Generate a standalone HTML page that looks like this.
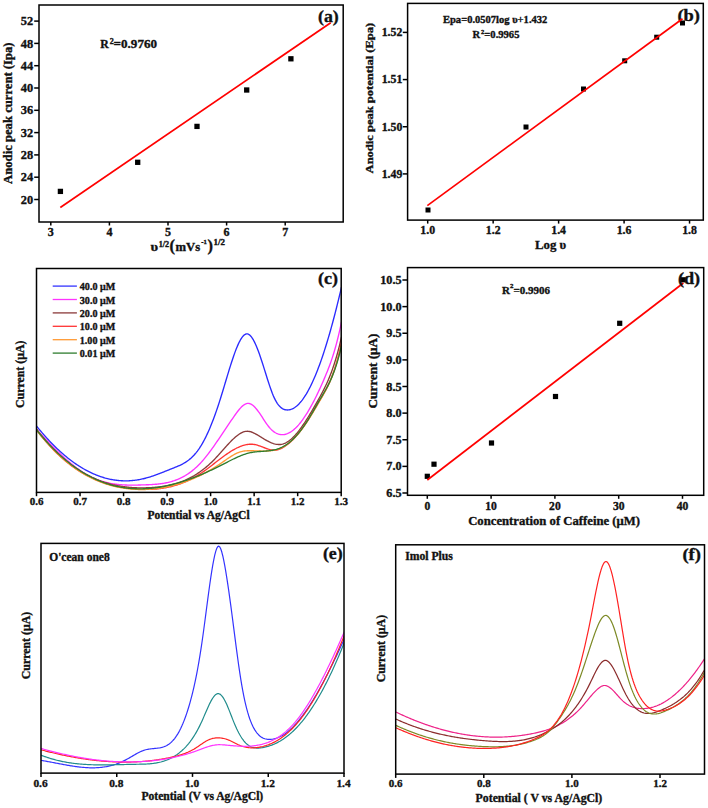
<!DOCTYPE html>
<html><head><meta charset="utf-8"><style>
html,body{margin:0;padding:0;background:#fff;width:708px;height:808px;overflow:hidden}
svg{display:block}
svg text{font-family:"Liberation Serif",serif;font-weight:bold;fill:#111;stroke:#111;stroke-width:0.35px}
</style></head><body>
<svg width="708" height="808" viewBox="0 0 708 808">
<rect width="708" height="808" fill="#fff"/>
<rect x="39.00" y="5.00" width="304.20" height="217.00" fill="none" stroke="#000" stroke-width="1.5"/>
<line x1="34.20" y1="199.50" x2="39.00" y2="199.50" stroke="#000" stroke-width="1.5"/>
<text x="33.20" y="203.60" font-size="12.40" fill="#000" text-anchor="end">20</text>
<line x1="34.20" y1="177.20" x2="39.00" y2="177.20" stroke="#000" stroke-width="1.5"/>
<text x="33.20" y="181.30" font-size="12.40" fill="#000" text-anchor="end">24</text>
<line x1="34.20" y1="154.90" x2="39.00" y2="154.90" stroke="#000" stroke-width="1.5"/>
<text x="33.20" y="159.00" font-size="12.40" fill="#000" text-anchor="end">28</text>
<line x1="34.20" y1="132.60" x2="39.00" y2="132.60" stroke="#000" stroke-width="1.5"/>
<text x="33.20" y="136.70" font-size="12.40" fill="#000" text-anchor="end">32</text>
<line x1="34.20" y1="110.30" x2="39.00" y2="110.30" stroke="#000" stroke-width="1.5"/>
<text x="33.20" y="114.40" font-size="12.40" fill="#000" text-anchor="end">36</text>
<line x1="34.20" y1="88.00" x2="39.00" y2="88.00" stroke="#000" stroke-width="1.5"/>
<text x="33.20" y="92.10" font-size="12.40" fill="#000" text-anchor="end">40</text>
<line x1="34.20" y1="65.70" x2="39.00" y2="65.70" stroke="#000" stroke-width="1.5"/>
<text x="33.20" y="69.80" font-size="12.40" fill="#000" text-anchor="end">44</text>
<line x1="34.20" y1="43.40" x2="39.00" y2="43.40" stroke="#000" stroke-width="1.5"/>
<text x="33.20" y="47.50" font-size="12.40" fill="#000" text-anchor="end">48</text>
<line x1="34.20" y1="21.10" x2="39.00" y2="21.10" stroke="#000" stroke-width="1.5"/>
<text x="33.20" y="25.20" font-size="12.40" fill="#000" text-anchor="end">52</text>
<line x1="50.80" y1="222.00" x2="50.80" y2="225.50" stroke="#000" stroke-width="1.5"/>
<text x="50.80" y="236.40" font-size="12.00" fill="#000" text-anchor="middle">3</text>
<line x1="109.40" y1="222.00" x2="109.40" y2="225.50" stroke="#000" stroke-width="1.5"/>
<text x="109.40" y="236.40" font-size="12.00" fill="#000" text-anchor="middle">4</text>
<line x1="168.00" y1="222.00" x2="168.00" y2="225.50" stroke="#000" stroke-width="1.5"/>
<text x="168.00" y="236.40" font-size="12.00" fill="#000" text-anchor="middle">5</text>
<line x1="226.60" y1="222.00" x2="226.60" y2="225.50" stroke="#000" stroke-width="1.5"/>
<text x="226.60" y="236.40" font-size="12.00" fill="#000" text-anchor="middle">6</text>
<line x1="285.20" y1="222.00" x2="285.20" y2="225.50" stroke="#000" stroke-width="1.5"/>
<text x="285.20" y="236.40" font-size="12.00" fill="#000" text-anchor="middle">7</text>
<text x="12.30" y="183.90" font-size="12.20" textLength="141.50" lengthAdjust="spacingAndGlyphs" transform="rotate(-90 12.30 183.90)">Anodic peak current (Ipa)</text>
<text x="150.60" y="251.40" font-size="13.50" fill="#000" textLength="7.60" lengthAdjust="spacingAndGlyphs">υ</text>
<text x="158.80" y="246.60" font-size="7.90" fill="#000" textLength="10.40" lengthAdjust="spacingAndGlyphs">1/2</text>
<text x="169.60" y="251.40" font-size="16.40" fill="#000">(</text>
<text x="175.50" y="251.40" font-size="12.20" fill="#000" textLength="24.60" lengthAdjust="spacingAndGlyphs">mVs</text>
<text x="201.20" y="244.10" font-size="7.00" fill="#000" textLength="5.60" lengthAdjust="spacingAndGlyphs">-1</text>
<text x="207.40" y="251.40" font-size="16.40" fill="#000">)</text>
<text x="213.60" y="244.70" font-size="7.90" fill="#000" textLength="11.40" lengthAdjust="spacingAndGlyphs">1/2</text>
<text x="100.20" y="47.70" font-size="11.80" fill="#000">R</text>
<text x="109.70" y="44.00" font-size="8.00" fill="#000">2</text>
<text x="113.60" y="47.70" font-size="11.80" fill="#000" textLength="43.40" lengthAdjust="spacingAndGlyphs">=0.9760</text>
<text x="318.00" y="22.10" font-size="16.40" fill="#000" textLength="20.80" lengthAdjust="spacingAndGlyphs">(a)</text>
<rect x="57.75" y="188.75" width="5.3" height="5.3" fill="#000"/>
<rect x="135.05" y="159.65" width="5.3" height="5.3" fill="#000"/>
<rect x="194.35" y="123.75" width="5.3" height="5.3" fill="#000"/>
<rect x="244.05" y="87.35" width="5.3" height="5.3" fill="#000"/>
<rect x="288.25" y="56.15" width="5.3" height="5.3" fill="#000"/>
<line x1="60.30" y1="207.50" x2="330.70" y2="22.70" stroke="#ff0000" stroke-width="1.7"/>
<rect x="407.60" y="3.40" width="295.70" height="216.70" fill="none" stroke="#000" stroke-width="1.5"/>
<line x1="402.80" y1="173.91" x2="407.60" y2="173.91" stroke="#000" stroke-width="1.5"/>
<text x="402.30" y="177.71" font-size="11.80" fill="#000" text-anchor="end">1.49</text>
<line x1="402.80" y1="126.74" x2="407.60" y2="126.74" stroke="#000" stroke-width="1.5"/>
<text x="402.30" y="130.54" font-size="11.80" fill="#000" text-anchor="end">1.50</text>
<line x1="402.80" y1="79.57" x2="407.60" y2="79.57" stroke="#000" stroke-width="1.5"/>
<text x="402.30" y="83.37" font-size="11.80" fill="#000" text-anchor="end">1.51</text>
<line x1="402.80" y1="32.40" x2="407.60" y2="32.40" stroke="#000" stroke-width="1.5"/>
<text x="402.30" y="36.20" font-size="11.80" fill="#000" text-anchor="end">1.52</text>
<line x1="427.70" y1="220.10" x2="427.70" y2="223.60" stroke="#000" stroke-width="1.5"/>
<text x="427.70" y="234.20" font-size="11.80" fill="#000" text-anchor="middle">1.0</text>
<line x1="493.16" y1="220.10" x2="493.16" y2="223.60" stroke="#000" stroke-width="1.5"/>
<text x="493.16" y="234.20" font-size="11.80" fill="#000" text-anchor="middle">1.2</text>
<line x1="558.62" y1="220.10" x2="558.62" y2="223.60" stroke="#000" stroke-width="1.5"/>
<text x="558.62" y="234.20" font-size="11.80" fill="#000" text-anchor="middle">1.4</text>
<line x1="624.08" y1="220.10" x2="624.08" y2="223.60" stroke="#000" stroke-width="1.5"/>
<text x="624.08" y="234.20" font-size="11.80" fill="#000" text-anchor="middle">1.6</text>
<line x1="689.54" y1="220.10" x2="689.54" y2="223.60" stroke="#000" stroke-width="1.5"/>
<text x="689.54" y="234.20" font-size="11.80" fill="#000" text-anchor="middle">1.8</text>
<text x="373.40" y="173.40" font-size="10.90" textLength="150.60" lengthAdjust="spacingAndGlyphs" transform="rotate(-90 373.40 173.40)">Anodic peak potential (Epa)</text>
<text x="535.00" y="248.80" font-size="12.80" fill="#000">Log υ</text>
<text x="443.00" y="23.40" font-size="10.60" fill="#000" textLength="104.30" lengthAdjust="spacingAndGlyphs">Epa=0.0507log υ+1.432</text>
<text x="472.40" y="37.70" font-size="10.60" fill="#000">R</text>
<text x="481.10" y="33.60" font-size="6.40" fill="#000">2</text>
<text x="484.30" y="37.70" font-size="10.60" fill="#000">=0.9965</text>
<text x="677.40" y="20.90" font-size="16.40" fill="#000" textLength="22.60" lengthAdjust="spacingAndGlyphs">(b)</text>
<rect x="425.50" y="207.50" width="5.0" height="5.0" fill="#000"/>
<rect x="523.50" y="124.50" width="5.0" height="5.0" fill="#000"/>
<rect x="581.00" y="86.50" width="5.0" height="5.0" fill="#000"/>
<rect x="622.20" y="58.30" width="5.0" height="5.0" fill="#000"/>
<rect x="654.20" y="34.70" width="5.0" height="5.0" fill="#000"/>
<rect x="680.00" y="20.50" width="5.0" height="5.0" fill="#000"/>
<line x1="427.30" y1="205.60" x2="682.50" y2="18.70" stroke="#ff0000" stroke-width="1.7"/>
<line x1="36.50" y1="492.40" x2="36.50" y2="496.20" stroke="#000" stroke-width="1.5"/>
<text x="36.50" y="504.80" font-size="11.00" fill="#000" text-anchor="middle">0.6</text>
<line x1="80.03" y1="492.40" x2="80.03" y2="496.20" stroke="#000" stroke-width="1.5"/>
<text x="80.03" y="504.80" font-size="11.00" fill="#000" text-anchor="middle">0.7</text>
<line x1="123.56" y1="492.40" x2="123.56" y2="496.20" stroke="#000" stroke-width="1.5"/>
<text x="123.56" y="504.80" font-size="11.00" fill="#000" text-anchor="middle">0.8</text>
<line x1="167.09" y1="492.40" x2="167.09" y2="496.20" stroke="#000" stroke-width="1.5"/>
<text x="167.09" y="504.80" font-size="11.00" fill="#000" text-anchor="middle">0.9</text>
<line x1="210.61" y1="492.40" x2="210.61" y2="496.20" stroke="#000" stroke-width="1.5"/>
<text x="210.61" y="504.80" font-size="11.00" fill="#000" text-anchor="middle">1.0</text>
<line x1="254.14" y1="492.40" x2="254.14" y2="496.20" stroke="#000" stroke-width="1.5"/>
<text x="254.14" y="504.80" font-size="11.00" fill="#000" text-anchor="middle">1.1</text>
<line x1="297.67" y1="492.40" x2="297.67" y2="496.20" stroke="#000" stroke-width="1.5"/>
<text x="297.67" y="504.80" font-size="11.00" fill="#000" text-anchor="middle">1.2</text>
<line x1="341.20" y1="492.40" x2="341.20" y2="496.20" stroke="#000" stroke-width="1.5"/>
<text x="341.20" y="504.80" font-size="11.00" fill="#000" text-anchor="middle">1.3</text>
<text x="24.40" y="408.00" font-size="12.00" textLength="67.40" lengthAdjust="spacingAndGlyphs" transform="rotate(-90 24.40 408.00)">Current (μA)</text>
<text x="147.40" y="518.50" font-size="11.50" fill="#000">Potential vs Ag/AgCl</text>
<text x="318.00" y="284.20" font-size="16.40" fill="#000" textLength="20.00" lengthAdjust="spacingAndGlyphs">(c)</text>
<line x1="52.70" y1="286.10" x2="76.90" y2="286.10" stroke="#3333ff" stroke-width="1.3"/>
<text x="79.80" y="290.20" font-size="10.10" fill="#000">40.0 μM</text>
<line x1="52.70" y1="299.50" x2="76.90" y2="299.50" stroke="#ff33ff" stroke-width="1.3"/>
<text x="79.80" y="303.60" font-size="10.10" fill="#000">30.0 μM</text>
<line x1="52.70" y1="312.90" x2="76.90" y2="312.90" stroke="#8b3a3a" stroke-width="1.3"/>
<text x="79.80" y="317.00" font-size="10.10" fill="#000">20.0 μM</text>
<line x1="52.70" y1="326.30" x2="76.90" y2="326.30" stroke="#ff3333" stroke-width="1.3"/>
<text x="79.80" y="330.40" font-size="10.10" fill="#000">10.0 μM</text>
<line x1="52.70" y1="339.70" x2="76.90" y2="339.70" stroke="#ff9933" stroke-width="1.3"/>
<text x="79.80" y="343.80" font-size="10.10" fill="#000">1.00 μM</text>
<line x1="52.70" y1="353.10" x2="76.90" y2="353.10" stroke="#2e7d2e" stroke-width="1.3"/>
<text x="79.80" y="357.20" font-size="10.10" fill="#000">0.01 μM</text>
<clipPath id="cc"><rect x="36.5" y="268.5" width="304.7" height="223.89999999999998"/></clipPath>
<g clip-path="url(#cc)">
<path d="M36.40,425.88 L37.40,427.12 L38.40,428.34 L39.40,429.56 L40.40,430.75 L41.40,431.94 L42.40,433.11 L43.40,434.26 L44.40,435.40 L45.40,436.53 L46.40,437.64 L47.40,438.73 L48.40,439.82 L49.40,440.88 L50.40,441.94 L51.40,442.98 L52.40,444.00 L53.40,445.01 L54.40,446.01 L55.40,446.99 L56.40,447.96 L57.40,448.91 L58.40,449.85 L59.40,450.77 L60.40,451.68 L61.40,452.58 L62.40,453.46 L63.40,454.33 L64.40,455.18 L65.40,456.02 L66.40,456.85 L67.40,457.66 L68.40,458.45 L69.40,459.24 L70.40,460.01 L71.40,460.76 L72.40,461.50 L73.40,462.23 L74.40,462.94 L75.40,463.64 L76.40,464.32 L77.40,464.99 L78.40,465.64 L79.40,466.29 L80.40,466.91 L81.40,467.53 L82.40,468.13 L83.40,468.71 L84.40,469.28 L85.40,469.84 L86.40,470.39 L87.40,470.92 L88.40,471.43 L89.40,471.93 L90.40,472.42 L91.40,472.90 L92.40,473.36 L93.40,473.80 L94.40,474.24 L95.40,474.65 L96.40,475.06 L97.40,475.45 L98.40,475.83 L99.40,476.19 L100.40,476.54 L101.40,476.88 L102.40,477.20 L103.40,477.51 L104.40,477.80 L105.40,478.09 L106.40,478.35 L107.40,478.61 L108.40,478.85 L109.40,479.07 L110.40,479.29 L111.40,479.48 L112.40,479.67 L113.40,479.84 L114.40,480.00 L115.40,480.15 L116.40,480.28 L117.40,480.39 L118.40,480.50 L119.40,480.59 L120.40,480.67 L121.40,480.73 L122.40,480.78 L123.40,480.82 L124.40,480.84 L125.40,480.85 L126.40,480.84 L127.40,480.83 L128.40,480.80 L129.40,480.75 L130.40,480.69 L131.40,480.62 L132.40,480.54 L133.40,480.44 L134.40,480.33 L135.40,480.20 L136.40,480.07 L137.40,479.92 L138.40,479.75 L139.40,479.57 L140.40,479.38 L141.40,479.18 L142.40,478.96 L143.40,478.73 L144.40,478.49 L145.40,478.23 L146.40,477.96 L147.40,477.68 L148.40,477.38 L149.40,477.08 L150.40,476.77 L151.40,476.44 L152.40,476.11 L153.40,475.77 L154.40,475.42 L155.40,475.06 L156.40,474.70 L157.40,474.33 L158.40,473.95 L159.40,473.57 L160.40,473.19 L161.40,472.80 L162.40,472.41 L163.40,472.01 L164.40,471.61 L165.40,471.21 L166.40,470.81 L167.40,470.41 L168.40,470.01 L169.40,469.61 L170.40,469.20 L171.40,468.81 L172.40,468.41 L173.40,468.01 L174.40,467.62 L175.40,467.22 L176.40,466.81 L177.40,466.40 L178.40,465.97 L179.40,465.52 L180.40,465.06 L181.40,464.57 L182.40,464.06 L183.40,463.51 L184.40,462.94 L185.40,462.33 L186.40,461.68 L187.40,460.99 L188.40,460.25 L189.40,459.47 L190.40,458.63 L191.40,457.74 L192.40,456.79 L193.40,455.78 L194.40,454.71 L195.40,453.57 L196.40,452.36 L197.40,451.07 L198.40,449.71 L199.40,448.27 L200.40,446.74 L201.40,445.13 L202.40,443.43 L203.40,441.64 L204.40,439.77 L205.40,437.82 L206.40,435.78 L207.40,433.66 L208.40,431.45 L209.40,429.17 L210.40,426.80 L211.40,424.35 L212.40,421.82 L213.40,419.20 L214.40,416.52 L215.40,413.75 L216.40,410.90 L217.40,407.98 L218.40,404.98 L219.40,401.90 L220.40,398.75 L221.40,395.53 L222.40,392.27 L223.40,388.97 L224.40,385.64 L225.40,382.30 L226.40,378.96 L227.40,375.63 L228.40,372.33 L229.40,369.07 L230.40,365.87 L231.40,362.73 L232.40,359.67 L233.40,356.71 L234.40,353.86 L235.40,351.14 L236.40,348.56 L237.40,346.14 L238.40,343.89 L239.40,341.83 L240.40,339.97 L241.40,338.33 L242.40,336.92 L243.40,335.76 L244.40,334.87 L245.40,334.25 L246.40,333.93 L247.40,333.91 L248.40,334.22 L249.40,334.83 L250.40,335.72 L251.40,336.89 L252.40,338.31 L253.40,339.97 L254.40,341.86 L255.40,343.95 L256.40,346.23 L257.40,348.69 L258.40,351.30 L259.40,354.06 L260.40,356.94 L261.40,359.93 L262.40,363.01 L263.40,366.16 L264.40,369.36 L265.40,372.57 L266.40,375.78 L267.40,378.95 L268.40,382.07 L269.40,385.10 L270.40,388.03 L271.40,390.82 L272.40,393.46 L273.40,395.91 L274.40,398.15 L275.40,400.16 L276.40,401.95 L277.40,403.53 L278.40,404.90 L279.40,406.09 L280.40,407.09 L281.40,407.93 L282.40,408.60 L283.40,409.13 L284.40,409.52 L285.40,409.79 L286.40,409.93 L287.40,409.98 L288.40,409.93 L289.40,409.78 L290.40,409.55 L291.40,409.22 L292.40,408.81 L293.40,408.30 L294.40,407.71 L295.40,407.03 L296.40,406.26 L297.40,405.40 L298.40,404.45 L299.40,403.42 L300.40,402.30 L301.40,401.09 L302.40,399.80 L303.40,398.42 L304.40,396.96 L305.40,395.41 L306.40,393.79 L307.40,392.07 L308.40,390.28 L309.40,388.40 L310.40,386.44 L311.40,384.40 L312.40,382.27 L313.40,380.07 L314.40,377.79 L315.40,375.42 L316.40,372.98 L317.40,370.46 L318.40,367.86 L319.40,365.18 L320.40,362.43 L321.40,359.60 L322.40,356.69 L323.40,353.71 L324.40,350.65 L325.40,347.51 L326.40,344.30 L327.40,341.02 L328.40,337.66 L329.40,334.23 L330.40,330.73 L331.40,327.15 L332.40,323.51 L333.40,319.79 L334.40,316.00 L335.40,312.14 L336.40,308.21 L337.40,304.21 L338.40,300.14 L339.40,296.00 L340.40,291.80 L341.40,287.52 L341.50,287.09" fill="none" stroke="#2b2bff" stroke-width="1.35" stroke-linejoin="round"/>
<path d="M36.40,429.13 L37.40,430.23 L38.40,431.33 L39.40,432.42 L40.40,433.51 L41.40,434.60 L42.40,435.68 L43.40,436.76 L44.40,437.83 L45.40,438.90 L46.40,439.96 L47.40,441.01 L48.40,442.06 L49.40,443.10 L50.40,444.14 L51.40,445.17 L52.40,446.19 L53.40,447.20 L54.40,448.21 L55.40,449.20 L56.40,450.19 L57.40,451.17 L58.40,452.14 L59.40,453.10 L60.40,454.05 L61.40,454.99 L62.40,455.92 L63.40,456.84 L64.40,457.75 L65.40,458.65 L66.40,459.54 L67.40,460.41 L68.40,461.27 L69.40,462.12 L70.40,462.96 L71.40,463.78 L72.40,464.59 L73.40,465.39 L74.40,466.17 L75.40,466.94 L76.40,467.70 L77.40,468.44 L78.40,469.16 L79.40,469.87 L80.40,470.56 L81.40,471.24 L82.40,471.90 L83.40,472.55 L84.40,473.17 L85.40,473.78 L86.40,474.38 L87.40,474.95 L88.40,475.51 L89.40,476.05 L90.40,476.57 L91.40,477.07 L92.40,477.56 L93.40,478.02 L94.40,478.46 L95.40,478.89 L96.40,479.30 L97.40,479.69 L98.40,480.07 L99.40,480.42 L100.40,480.77 L101.40,481.09 L102.40,481.40 L103.40,481.70 L104.40,481.97 L105.40,482.24 L106.40,482.49 L107.40,482.72 L108.40,482.95 L109.40,483.16 L110.40,483.35 L111.40,483.54 L112.40,483.71 L113.40,483.87 L114.40,484.02 L115.40,484.15 L116.40,484.28 L117.40,484.39 L118.40,484.50 L119.40,484.60 L120.40,484.68 L121.40,484.76 L122.40,484.83 L123.40,484.89 L124.40,484.94 L125.40,484.99 L126.40,485.02 L127.40,485.06 L128.40,485.08 L129.40,485.10 L130.40,485.11 L131.40,485.12 L132.40,485.12 L133.40,485.11 L134.40,485.10 L135.40,485.09 L136.40,485.08 L137.40,485.06 L138.40,485.04 L139.40,485.01 L140.40,484.98 L141.40,484.95 L142.40,484.92 L143.40,484.89 L144.40,484.86 L145.40,484.82 L146.40,484.79 L147.40,484.75 L148.40,484.71 L149.40,484.66 L150.40,484.62 L151.40,484.56 L152.40,484.50 L153.40,484.44 L154.40,484.37 L155.40,484.29 L156.40,484.21 L157.40,484.11 L158.40,484.01 L159.40,483.90 L160.40,483.77 L161.40,483.64 L162.40,483.49 L163.40,483.34 L164.40,483.17 L165.40,482.98 L166.40,482.78 L167.40,482.57 L168.40,482.34 L169.40,482.10 L170.40,481.84 L171.40,481.56 L172.40,481.26 L173.40,480.95 L174.40,480.62 L175.40,480.26 L176.40,479.89 L177.40,479.50 L178.40,479.08 L179.40,478.64 L180.40,478.18 L181.40,477.69 L182.40,477.19 L183.40,476.65 L184.40,476.09 L185.40,475.51 L186.40,474.90 L187.40,474.26 L188.40,473.59 L189.40,472.89 L190.40,472.17 L191.40,471.42 L192.40,470.63 L193.40,469.81 L194.40,468.97 L195.40,468.09 L196.40,467.17 L197.40,466.23 L198.40,465.25 L199.40,464.23 L200.40,463.18 L201.40,462.09 L202.40,460.97 L203.40,459.82 L204.40,458.63 L205.40,457.41 L206.40,456.17 L207.40,454.89 L208.40,453.59 L209.40,452.27 L210.40,450.92 L211.40,449.56 L212.40,448.17 L213.40,446.77 L214.40,445.35 L215.40,443.91 L216.40,442.46 L217.40,441.00 L218.40,439.53 L219.40,438.06 L220.40,436.57 L221.40,435.08 L222.40,433.58 L223.40,432.09 L224.40,430.59 L225.40,429.09 L226.40,427.59 L227.40,426.10 L228.40,424.62 L229.40,423.14 L230.40,421.67 L231.40,420.20 L232.40,418.76 L233.40,417.32 L234.40,415.90 L235.40,414.49 L236.40,413.11 L237.40,411.77 L238.40,410.48 L239.40,409.26 L240.40,408.11 L241.40,407.06 L242.40,406.11 L243.40,405.28 L244.40,404.58 L245.40,404.03 L246.40,403.64 L247.40,403.42 L248.40,403.39 L249.40,403.54 L250.40,403.88 L251.40,404.38 L252.40,405.04 L253.40,405.84 L254.40,406.78 L255.40,407.83 L256.40,408.99 L257.40,410.24 L258.40,411.57 L259.40,412.98 L260.40,414.44 L261.40,415.95 L262.40,417.48 L263.40,419.02 L264.40,420.55 L265.40,422.05 L266.40,423.51 L267.40,424.92 L268.40,426.25 L269.40,427.49 L270.40,428.62 L271.40,429.65 L272.40,430.57 L273.40,431.39 L274.40,432.12 L275.40,432.74 L276.40,433.28 L277.40,433.72 L278.40,434.08 L279.40,434.34 L280.40,434.53 L281.40,434.63 L282.40,434.66 L283.40,434.60 L284.40,434.47 L285.40,434.26 L286.40,433.98 L287.40,433.62 L288.40,433.19 L289.40,432.68 L290.40,432.11 L291.40,431.46 L292.40,430.75 L293.40,429.97 L294.40,429.12 L295.40,428.21 L296.40,427.23 L297.40,426.19 L298.40,425.09 L299.40,423.93 L300.40,422.70 L301.40,421.42 L302.40,420.08 L303.40,418.69 L304.40,417.24 L305.40,415.73 L306.40,414.18 L307.40,412.57 L308.40,410.91 L309.40,409.20 L310.40,407.44 L311.40,405.63 L312.40,403.78 L313.40,401.88 L314.40,399.94 L315.40,397.96 L316.40,395.94 L317.40,393.87 L318.40,391.77 L319.40,389.62 L320.40,387.44 L321.40,385.22 L322.40,382.97 L323.40,380.69 L324.40,378.37 L325.40,376.02 L326.40,373.61 L327.40,371.15 L328.40,368.61 L329.40,365.98 L330.40,363.24 L331.40,360.39 L332.40,357.40 L333.40,354.27 L334.40,350.98 L335.40,347.51 L336.40,343.86 L337.40,340.01 L338.40,335.94 L339.40,331.64 L340.40,327.10 L341.40,322.31 L341.50,321.81" fill="none" stroke="#ff33ff" stroke-width="1.35" stroke-linejoin="round"/>
<path d="M36.40,428.96 L37.40,430.28 L38.40,431.59 L39.40,432.87 L40.40,434.14 L41.40,435.39 L42.40,436.62 L43.40,437.83 L44.40,439.03 L45.40,440.20 L46.40,441.36 L47.40,442.50 L48.40,443.63 L49.40,444.74 L50.40,445.82 L51.40,446.90 L52.40,447.95 L53.40,448.99 L54.40,450.01 L55.40,451.02 L56.40,452.01 L57.40,452.98 L58.40,453.94 L59.40,454.88 L60.40,455.80 L61.40,456.71 L62.40,457.60 L63.40,458.48 L64.40,459.34 L65.40,460.18 L66.40,461.01 L67.40,461.83 L68.40,462.63 L69.40,463.41 L70.40,464.18 L71.40,464.94 L72.40,465.68 L73.40,466.40 L74.40,467.11 L75.40,467.81 L76.40,468.49 L77.40,469.16 L78.40,469.82 L79.40,470.46 L80.40,471.08 L81.40,471.70 L82.40,472.30 L83.40,472.88 L84.40,473.46 L85.40,474.02 L86.40,474.56 L87.40,475.10 L88.40,475.62 L89.40,476.13 L90.40,476.62 L91.40,477.10 L92.40,477.57 L93.40,478.03 L94.40,478.48 L95.40,478.91 L96.40,479.34 L97.40,479.75 L98.40,480.14 L99.40,480.53 L100.40,480.91 L101.40,481.27 L102.40,481.63 L103.40,481.97 L104.40,482.30 L105.40,482.62 L106.40,482.93 L107.40,483.23 L108.40,483.51 L109.40,483.79 L110.40,484.06 L111.40,484.32 L112.40,484.56 L113.40,484.80 L114.40,485.03 L115.40,485.25 L116.40,485.45 L117.40,485.65 L118.40,485.84 L119.40,486.02 L120.40,486.19 L121.40,486.35 L122.40,486.51 L123.40,486.65 L124.40,486.78 L125.40,486.91 L126.40,487.03 L127.40,487.14 L128.40,487.24 L129.40,487.33 L130.40,487.42 L131.40,487.49 L132.40,487.56 L133.40,487.63 L134.40,487.68 L135.40,487.73 L136.40,487.77 L137.40,487.80 L138.40,487.82 L139.40,487.84 L140.40,487.85 L141.40,487.86 L142.40,487.86 L143.40,487.85 L144.40,487.83 L145.40,487.81 L146.40,487.78 L147.40,487.75 L148.40,487.71 L149.40,487.66 L150.40,487.61 L151.40,487.56 L152.40,487.49 L153.40,487.42 L154.40,487.35 L155.40,487.26 L156.40,487.17 L157.40,487.08 L158.40,486.97 L159.40,486.86 L160.40,486.74 L161.40,486.60 L162.40,486.46 L163.40,486.32 L164.40,486.16 L165.40,485.99 L166.40,485.81 L167.40,485.62 L168.40,485.42 L169.40,485.21 L170.40,484.98 L171.40,484.75 L172.40,484.50 L173.40,484.25 L174.40,483.97 L175.40,483.69 L176.40,483.39 L177.40,483.08 L178.40,482.76 L179.40,482.42 L180.40,482.07 L181.40,481.70 L182.40,481.32 L183.40,480.92 L184.40,480.51 L185.40,480.08 L186.40,479.63 L187.40,479.17 L188.40,478.69 L189.40,478.20 L190.40,477.68 L191.40,477.15 L192.40,476.61 L193.40,476.04 L194.40,475.46 L195.40,474.85 L196.40,474.23 L197.40,473.59 L198.40,472.93 L199.40,472.25 L200.40,471.54 L201.40,470.82 L202.40,470.08 L203.40,469.32 L204.40,468.53 L205.40,467.72 L206.40,466.89 L207.40,466.04 L208.40,465.17 L209.40,464.27 L210.40,463.35 L211.40,462.41 L212.40,461.44 L213.40,460.45 L214.40,459.43 L215.40,458.39 L216.40,457.33 L217.40,456.24 L218.40,455.14 L219.40,454.03 L220.40,452.91 L221.40,451.78 L222.40,450.65 L223.40,449.51 L224.40,448.38 L225.40,447.26 L226.40,446.15 L227.40,445.04 L228.40,443.96 L229.40,442.89 L230.40,441.85 L231.40,440.83 L232.40,439.84 L233.40,438.88 L234.40,437.96 L235.40,437.07 L236.40,436.23 L237.40,435.44 L238.40,434.70 L239.40,434.01 L240.40,433.39 L241.40,432.84 L242.40,432.37 L243.40,431.97 L244.40,431.65 L245.40,431.43 L246.40,431.30 L247.40,431.26 L248.40,431.32 L249.40,431.47 L250.40,431.70 L251.40,432.01 L252.40,432.37 L253.40,432.80 L254.40,433.27 L255.40,433.79 L256.40,434.35 L257.40,434.93 L258.40,435.53 L259.40,436.14 L260.40,436.76 L261.40,437.39 L262.40,438.00 L263.40,438.62 L264.40,439.22 L265.40,439.81 L266.40,440.38 L267.40,440.93 L268.40,441.45 L269.40,441.95 L270.40,442.41 L271.40,442.84 L272.40,443.23 L273.40,443.57 L274.40,443.87 L275.40,444.12 L276.40,444.31 L277.40,444.45 L278.40,444.52 L279.40,444.53 L280.40,444.47 L281.40,444.34 L282.40,444.12 L283.40,443.84 L284.40,443.47 L285.40,443.03 L286.40,442.51 L287.40,441.92 L288.40,441.27 L289.40,440.54 L290.40,439.75 L291.40,438.90 L292.40,437.99 L293.40,437.01 L294.40,435.99 L295.40,434.90 L296.40,433.76 L297.40,432.58 L298.40,431.34 L299.40,430.06 L300.40,428.73 L301.40,427.36 L302.40,425.95 L303.40,424.50 L304.40,423.02 L305.40,421.50 L306.40,419.95 L307.40,418.37 L308.40,416.76 L309.40,415.13 L310.40,413.47 L311.40,411.79 L312.40,410.09 L313.40,408.37 L314.40,406.64 L315.40,404.90 L316.40,403.14 L317.40,401.37 L318.40,399.60 L319.40,397.81 L320.40,396.00 L321.40,394.16 L322.40,392.28 L323.40,390.35 L324.40,388.36 L325.40,386.31 L326.40,384.18 L327.40,381.98 L328.40,379.68 L329.40,377.28 L330.40,374.77 L331.40,372.14 L332.40,369.39 L333.40,366.51 L334.40,363.48 L335.40,360.30 L336.40,356.96 L337.40,353.45 L338.40,349.75 L339.40,345.85 L340.40,341.71 L341.40,337.31 L341.50,336.86" fill="none" stroke="#8b3a3a" stroke-width="1.35" stroke-linejoin="round"/>
<path d="M36.40,429.52 L37.40,430.86 L38.40,432.17 L39.40,433.47 L40.40,434.75 L41.40,436.01 L42.40,437.25 L43.40,438.47 L44.40,439.67 L45.40,440.85 L46.40,442.02 L47.40,443.17 L48.40,444.30 L49.40,445.41 L50.40,446.50 L51.40,447.58 L52.40,448.64 L53.40,449.68 L54.40,450.70 L55.40,451.71 L56.40,452.70 L57.40,453.67 L58.40,454.63 L59.40,455.57 L60.40,456.49 L61.40,457.40 L62.40,458.29 L63.40,459.16 L64.40,460.02 L65.40,460.87 L66.40,461.69 L67.40,462.50 L68.40,463.30 L69.40,464.08 L70.40,464.85 L71.40,465.60 L72.40,466.34 L73.40,467.06 L74.40,467.77 L75.40,468.46 L76.40,469.14 L77.40,469.81 L78.40,470.46 L79.40,471.09 L80.40,471.72 L81.40,472.33 L82.40,472.92 L83.40,473.51 L84.40,474.08 L85.40,474.63 L86.40,475.18 L87.40,475.71 L88.40,476.23 L89.40,476.74 L90.40,477.23 L91.40,477.71 L92.40,478.18 L93.40,478.64 L94.40,479.09 L95.40,479.52 L96.40,479.95 L97.40,480.36 L98.40,480.76 L99.40,481.15 L100.40,481.53 L101.40,481.89 L102.40,482.25 L103.40,482.60 L104.40,482.93 L105.40,483.26 L106.40,483.58 L107.40,483.88 L108.40,484.18 L109.40,484.47 L110.40,484.74 L111.40,485.01 L112.40,485.27 L113.40,485.52 L114.40,485.76 L115.40,485.99 L116.40,486.21 L117.40,486.43 L118.40,486.63 L119.40,486.83 L120.40,487.02 L121.40,487.20 L122.40,487.37 L123.40,487.54 L124.40,487.69 L125.40,487.84 L126.40,487.99 L127.40,488.12 L128.40,488.25 L129.40,488.37 L130.40,488.49 L131.40,488.59 L132.40,488.70 L133.40,488.79 L134.40,488.88 L135.40,488.96 L136.40,489.04 L137.40,489.11 L138.40,489.17 L139.40,489.23 L140.40,489.28 L141.40,489.32 L142.40,489.35 L143.40,489.38 L144.40,489.40 L145.40,489.41 L146.40,489.41 L147.40,489.41 L148.40,489.40 L149.40,489.38 L150.40,489.35 L151.40,489.31 L152.40,489.26 L153.40,489.20 L154.40,489.14 L155.40,489.06 L156.40,488.98 L157.40,488.89 L158.40,488.78 L159.40,488.67 L160.40,488.55 L161.40,488.41 L162.40,488.27 L163.40,488.12 L164.40,487.95 L165.40,487.77 L166.40,487.59 L167.40,487.39 L168.40,487.18 L169.40,486.96 L170.40,486.73 L171.40,486.49 L172.40,486.23 L173.40,485.96 L174.40,485.68 L175.40,485.39 L176.40,485.09 L177.40,484.77 L178.40,484.44 L179.40,484.10 L180.40,483.74 L181.40,483.37 L182.40,482.99 L183.40,482.59 L184.40,482.18 L185.40,481.76 L186.40,481.32 L187.40,480.87 L188.40,480.41 L189.40,479.93 L190.40,479.43 L191.40,478.92 L192.40,478.40 L193.40,477.86 L194.40,477.30 L195.40,476.73 L196.40,476.15 L197.40,475.55 L198.40,474.93 L199.40,474.30 L200.40,473.65 L201.40,472.98 L202.40,472.30 L203.40,471.61 L204.40,470.90 L205.40,470.18 L206.40,469.45 L207.40,468.71 L208.40,467.96 L209.40,467.21 L210.40,466.45 L211.40,465.68 L212.40,464.91 L213.40,464.14 L214.40,463.36 L215.40,462.59 L216.40,461.81 L217.40,461.04 L218.40,460.27 L219.40,459.50 L220.40,458.74 L221.40,457.99 L222.40,457.24 L223.40,456.50 L224.40,455.78 L225.40,455.06 L226.40,454.35 L227.40,453.66 L228.40,452.98 L229.40,452.32 L230.40,451.68 L231.40,451.05 L232.40,450.44 L233.40,449.86 L234.40,449.29 L235.40,448.75 L236.40,448.23 L237.40,447.74 L238.40,447.27 L239.40,446.84 L240.40,446.43 L241.40,446.05 L242.40,445.70 L243.40,445.39 L244.40,445.11 L245.40,444.87 L246.40,444.67 L247.40,444.50 L248.40,444.38 L249.40,444.29 L250.40,444.25 L251.40,444.25 L252.40,444.29 L253.40,444.38 L254.40,444.52 L255.40,444.71 L256.40,444.94 L257.40,445.21 L258.40,445.52 L259.40,445.86 L260.40,446.22 L261.40,446.59 L262.40,446.98 L263.40,447.37 L264.40,447.75 L265.40,448.13 L266.40,448.50 L267.40,448.84 L268.40,449.16 L269.40,449.44 L270.40,449.69 L271.40,449.88 L272.40,450.03 L273.40,450.12 L274.40,450.15 L275.40,450.11 L276.40,449.99 L277.40,449.79 L278.40,449.52 L279.40,449.19 L280.40,448.78 L281.40,448.32 L282.40,447.81 L283.40,447.24 L284.40,446.63 L285.40,445.97 L286.40,445.27 L287.40,444.53 L288.40,443.74 L289.40,442.91 L290.40,442.04 L291.40,441.13 L292.40,440.17 L293.40,439.17 L294.40,438.12 L295.40,437.03 L296.40,435.90 L297.40,434.73 L298.40,433.51 L299.40,432.26 L300.40,430.96 L301.40,429.63 L302.40,428.26 L303.40,426.86 L304.40,425.42 L305.40,423.94 L306.40,422.44 L307.40,420.90 L308.40,419.34 L309.40,417.74 L310.40,416.12 L311.40,414.49 L312.40,412.83 L313.40,411.16 L314.40,409.47 L315.40,407.78 L316.40,406.08 L317.40,404.38 L318.40,402.69 L319.40,400.99 L320.40,399.31 L321.40,397.63 L322.40,395.93 L323.40,394.22 L324.40,392.46 L325.40,390.66 L326.40,388.78 L327.40,386.82 L328.40,384.77 L329.40,382.61 L330.40,380.33 L331.40,377.90 L332.40,375.33 L333.40,372.59 L334.40,369.66 L335.40,366.55 L336.40,363.22 L337.40,359.67 L338.40,355.88 L339.40,351.84 L340.40,347.53 L341.40,342.94 L341.50,342.46" fill="none" stroke="#ff3333" stroke-width="1.35" stroke-linejoin="round"/>
<path d="M36.40,429.94 L37.40,431.24 L38.40,432.51 L39.40,433.77 L40.40,435.01 L41.40,436.24 L42.40,437.45 L43.40,438.64 L44.40,439.81 L45.40,440.97 L46.40,442.11 L47.40,443.24 L48.40,444.35 L49.40,445.44 L50.40,446.52 L51.40,447.58 L52.40,448.62 L53.40,449.65 L54.40,450.67 L55.40,451.66 L56.40,452.65 L57.40,453.61 L58.40,454.56 L59.40,455.50 L60.40,456.42 L61.40,457.33 L62.40,458.22 L63.40,459.10 L64.40,459.96 L65.40,460.80 L66.40,461.64 L67.40,462.45 L68.40,463.26 L69.40,464.05 L70.40,464.82 L71.40,465.58 L72.40,466.33 L73.40,467.06 L74.40,467.78 L75.40,468.49 L76.40,469.18 L77.40,469.85 L78.40,470.52 L79.40,471.17 L80.40,471.81 L81.40,472.43 L82.40,473.05 L83.40,473.65 L84.40,474.23 L85.40,474.81 L86.40,475.37 L87.40,475.91 L88.40,476.45 L89.40,476.97 L90.40,477.48 L91.40,477.98 L92.40,478.47 L93.40,478.95 L94.40,479.41 L95.40,479.86 L96.40,480.30 L97.40,480.73 L98.40,481.14 L99.40,481.55 L100.40,481.94 L101.40,482.32 L102.40,482.70 L103.40,483.06 L104.40,483.41 L105.40,483.74 L106.40,484.07 L107.40,484.39 L108.40,484.69 L109.40,484.99 L110.40,485.28 L111.40,485.55 L112.40,485.82 L113.40,486.07 L114.40,486.32 L115.40,486.55 L116.40,486.78 L117.40,486.99 L118.40,487.20 L119.40,487.40 L120.40,487.58 L121.40,487.76 L122.40,487.93 L123.40,488.09 L124.40,488.24 L125.40,488.38 L126.40,488.52 L127.40,488.64 L128.40,488.76 L129.40,488.86 L130.40,488.96 L131.40,489.05 L132.40,489.13 L133.40,489.21 L134.40,489.27 L135.40,489.33 L136.40,489.38 L137.40,489.42 L138.40,489.46 L139.40,489.48 L140.40,489.50 L141.40,489.51 L142.40,489.51 L143.40,489.50 L144.40,489.49 L145.40,489.46 L146.40,489.43 L147.40,489.39 L148.40,489.35 L149.40,489.29 L150.40,489.23 L151.40,489.15 L152.40,489.07 L153.40,488.98 L154.40,488.89 L155.40,488.78 L156.40,488.67 L157.40,488.55 L158.40,488.42 L159.40,488.28 L160.40,488.13 L161.40,487.98 L162.40,487.81 L163.40,487.64 L164.40,487.46 L165.40,487.27 L166.40,487.07 L167.40,486.87 L168.40,486.65 L169.40,486.43 L170.40,486.20 L171.40,485.96 L172.40,485.72 L173.40,485.46 L174.40,485.19 L175.40,484.92 L176.40,484.64 L177.40,484.35 L178.40,484.05 L179.40,483.74 L180.40,483.43 L181.40,483.10 L182.40,482.77 L183.40,482.43 L184.40,482.08 L185.40,481.72 L186.40,481.35 L187.40,480.98 L188.40,480.59 L189.40,480.20 L190.40,479.80 L191.40,479.39 L192.40,478.97 L193.40,478.54 L194.40,478.10 L195.40,477.66 L196.40,477.21 L197.40,476.74 L198.40,476.27 L199.40,475.79 L200.40,475.30 L201.40,474.80 L202.40,474.30 L203.40,473.78 L204.40,473.26 L205.40,472.72 L206.40,472.18 L207.40,471.63 L208.40,471.07 L209.40,470.50 L210.40,469.92 L211.40,469.34 L212.40,468.74 L213.40,468.13 L214.40,467.52 L215.40,466.90 L216.40,466.27 L217.40,465.63 L218.40,464.98 L219.40,464.32 L220.40,463.65 L221.40,462.97 L222.40,462.29 L223.40,461.60 L224.40,460.90 L225.40,460.20 L226.40,459.50 L227.40,458.81 L228.40,458.13 L229.40,457.46 L230.40,456.81 L231.40,456.17 L232.40,455.56 L233.40,454.97 L234.40,454.41 L235.40,453.89 L236.40,453.40 L237.40,452.94 L238.40,452.54 L239.40,452.17 L240.40,451.86 L241.40,451.59 L242.40,451.37 L243.40,451.19 L244.40,451.04 L245.40,450.93 L246.40,450.84 L247.40,450.79 L248.40,450.75 L249.40,450.73 L250.40,450.73 L251.40,450.73 L252.40,450.75 L253.40,450.78 L254.40,450.81 L255.40,450.84 L256.40,450.88 L257.40,450.92 L258.40,450.96 L259.40,450.99 L260.40,451.02 L261.40,451.05 L262.40,451.07 L263.40,451.08 L264.40,451.07 L265.40,451.06 L266.40,451.03 L267.40,450.99 L268.40,450.92 L269.40,450.84 L270.40,450.74 L271.40,450.61 L272.40,450.46 L273.40,450.29 L274.40,450.08 L275.40,449.85 L276.40,449.58 L277.40,449.29 L278.40,448.95 L279.40,448.58 L280.40,448.18 L281.40,447.73 L282.40,447.24 L283.40,446.71 L284.40,446.13 L285.40,445.51 L286.40,444.84 L287.40,444.13 L288.40,443.37 L289.40,442.57 L290.40,441.73 L291.40,440.85 L292.40,439.92 L293.40,438.95 L294.40,437.94 L295.40,436.89 L296.40,435.80 L297.40,434.67 L298.40,433.50 L299.40,432.29 L300.40,431.04 L301.40,429.76 L302.40,428.44 L303.40,427.08 L304.40,425.69 L305.40,424.26 L306.40,422.80 L307.40,421.30 L308.40,419.77 L309.40,418.21 L310.40,416.62 L311.40,415.00 L312.40,413.36 L313.40,411.70 L314.40,410.02 L315.40,408.32 L316.40,406.62 L317.40,404.91 L318.40,403.19 L319.40,401.47 L320.40,399.75 L321.40,398.03 L322.40,396.29 L323.40,394.53 L324.40,392.74 L325.40,390.89 L326.40,388.98 L327.40,387.00 L328.40,384.94 L329.40,382.77 L330.40,380.51 L331.40,378.12 L332.40,375.60 L333.40,372.94 L334.40,370.12 L335.40,367.13 L336.40,363.97 L337.40,360.62 L338.40,357.07 L339.40,353.30 L340.40,349.31 L341.40,345.07 L341.50,344.64" fill="none" stroke="#ff9933" stroke-width="1.35" stroke-linejoin="round"/>
<path d="M36.40,429.62 L37.40,430.87 L38.40,432.11 L39.40,433.33 L40.40,434.54 L41.40,435.73 L42.40,436.90 L43.40,438.06 L44.40,439.21 L45.40,440.34 L46.40,441.45 L47.40,442.55 L48.40,443.64 L49.40,444.71 L50.40,445.76 L51.40,446.81 L52.40,447.83 L53.40,448.85 L54.40,449.84 L55.40,450.83 L56.40,451.80 L57.40,452.75 L58.40,453.69 L59.40,454.62 L60.40,455.53 L61.40,456.43 L62.40,457.32 L63.40,458.19 L64.40,459.05 L65.40,459.89 L66.40,460.72 L67.40,461.54 L68.40,462.34 L69.40,463.13 L70.40,463.91 L71.40,464.67 L72.40,465.42 L73.40,466.16 L74.40,466.88 L75.40,467.59 L76.40,468.29 L77.40,468.97 L78.40,469.64 L79.40,470.30 L80.40,470.95 L81.40,471.58 L82.40,472.20 L83.40,472.81 L84.40,473.41 L85.40,473.99 L86.40,474.56 L87.40,475.12 L88.40,475.67 L89.40,476.20 L90.40,476.72 L91.40,477.23 L92.40,477.73 L93.40,478.22 L94.40,478.69 L95.40,479.15 L96.40,479.61 L97.40,480.04 L98.40,480.47 L99.40,480.89 L100.40,481.29 L101.40,481.69 L102.40,482.07 L103.40,482.44 L104.40,482.80 L105.40,483.15 L106.40,483.49 L107.40,483.81 L108.40,484.13 L109.40,484.43 L110.40,484.73 L111.40,485.01 L112.40,485.28 L113.40,485.54 L114.40,485.79 L115.40,486.03 L116.40,486.26 L117.40,486.48 L118.40,486.69 L119.40,486.89 L120.40,487.08 L121.40,487.26 L122.40,487.43 L123.40,487.59 L124.40,487.74 L125.40,487.88 L126.40,488.01 L127.40,488.13 L128.40,488.24 L129.40,488.34 L130.40,488.43 L131.40,488.51 L132.40,488.58 L133.40,488.64 L134.40,488.70 L135.40,488.74 L136.40,488.78 L137.40,488.80 L138.40,488.82 L139.40,488.83 L140.40,488.83 L141.40,488.82 L142.40,488.80 L143.40,488.77 L144.40,488.74 L145.40,488.69 L146.40,488.64 L147.40,488.58 L148.40,488.51 L149.40,488.43 L150.40,488.35 L151.40,488.25 L152.40,488.15 L153.40,488.04 L154.40,487.92 L155.40,487.79 L156.40,487.66 L157.40,487.52 L158.40,487.37 L159.40,487.21 L160.40,487.04 L161.40,486.87 L162.40,486.69 L163.40,486.50 L164.40,486.31 L165.40,486.11 L166.40,485.90 L167.40,485.68 L168.40,485.46 L169.40,485.23 L170.40,484.99 L171.40,484.74 L172.40,484.49 L173.40,484.23 L174.40,483.97 L175.40,483.70 L176.40,483.42 L177.40,483.14 L178.40,482.84 L179.40,482.55 L180.40,482.24 L181.40,481.93 L182.40,481.62 L183.40,481.29 L184.40,480.97 L185.40,480.63 L186.40,480.29 L187.40,479.94 L188.40,479.59 L189.40,479.23 L190.40,478.87 L191.40,478.50 L192.40,478.13 L193.40,477.75 L194.40,477.36 L195.40,476.97 L196.40,476.57 L197.40,476.17 L198.40,475.77 L199.40,475.35 L200.40,474.94 L201.40,474.52 L202.40,474.09 L203.40,473.66 L204.40,473.22 L205.40,472.78 L206.40,472.34 L207.40,471.88 L208.40,471.43 L209.40,470.97 L210.40,470.51 L211.40,470.04 L212.40,469.57 L213.40,469.09 L214.40,468.61 L215.40,468.13 L216.40,467.64 L217.40,467.14 L218.40,466.65 L219.40,466.15 L220.40,465.64 L221.40,465.13 L222.40,464.62 L223.40,464.11 L224.40,463.59 L225.40,463.07 L226.40,462.56 L227.40,462.04 L228.40,461.52 L229.40,461.01 L230.40,460.50 L231.40,460.00 L232.40,459.50 L233.40,459.01 L234.40,458.53 L235.40,458.05 L236.40,457.59 L237.40,457.13 L238.40,456.69 L239.40,456.26 L240.40,455.85 L241.40,455.45 L242.40,455.07 L243.40,454.70 L244.40,454.35 L245.40,454.02 L246.40,453.71 L247.40,453.42 L248.40,453.15 L249.40,452.91 L250.40,452.69 L251.40,452.49 L252.40,452.32 L253.40,452.16 L254.40,452.03 L255.40,451.91 L256.40,451.80 L257.40,451.70 L258.40,451.61 L259.40,451.53 L260.40,451.46 L261.40,451.39 L262.40,451.32 L263.40,451.24 L264.40,451.17 L265.40,451.09 L266.40,451.01 L267.40,450.91 L268.40,450.80 L269.40,450.68 L270.40,450.55 L271.40,450.40 L272.40,450.22 L273.40,450.03 L274.40,449.82 L275.40,449.57 L276.40,449.30 L277.40,449.00 L278.40,448.67 L279.40,448.31 L280.40,447.91 L281.40,447.47 L282.40,446.99 L283.40,446.47 L284.40,445.90 L285.40,445.29 L286.40,444.64 L287.40,443.94 L288.40,443.20 L289.40,442.41 L290.40,441.57 L291.40,440.70 L292.40,439.78 L293.40,438.81 L294.40,437.81 L295.40,436.75 L296.40,435.66 L297.40,434.53 L298.40,433.35 L299.40,432.13 L300.40,430.86 L301.40,429.56 L302.40,428.21 L303.40,426.82 L304.40,425.39 L305.40,423.92 L306.40,422.41 L307.40,420.86 L308.40,419.27 L309.40,417.64 L310.40,415.97 L311.40,414.28 L312.40,412.57 L313.40,410.84 L314.40,409.10 L315.40,407.36 L316.40,405.61 L317.40,403.87 L318.40,402.14 L319.40,400.42 L320.40,398.73 L321.40,397.05 L322.40,395.38 L323.40,393.70 L324.40,392.00 L325.40,390.26 L326.40,388.47 L327.40,386.62 L328.40,384.68 L329.40,382.66 L330.40,380.52 L331.40,378.27 L332.40,375.88 L333.40,373.35 L334.40,370.65 L335.40,367.77 L336.40,364.71 L337.40,361.44 L338.40,357.96 L339.40,354.24 L340.40,350.28 L341.40,346.05 L341.50,345.62" fill="none" stroke="#2e7d2e" stroke-width="1.35" stroke-linejoin="round"/>
</g>
<rect x="36.50" y="268.50" width="304.70" height="223.90" fill="none" stroke="#000" stroke-width="1.5"/>
<rect x="407.50" y="267.60" width="296.20" height="227.70" fill="none" stroke="#000" stroke-width="1.5"/>
<line x1="402.40" y1="493.00" x2="407.50" y2="493.00" stroke="#000" stroke-width="1.5"/>
<text x="401.60" y="497.00" font-size="12.20" fill="#000" text-anchor="end">6.5</text>
<line x1="402.40" y1="466.38" x2="407.50" y2="466.38" stroke="#000" stroke-width="1.5"/>
<text x="401.60" y="470.38" font-size="12.20" fill="#000" text-anchor="end">7.0</text>
<line x1="402.40" y1="439.75" x2="407.50" y2="439.75" stroke="#000" stroke-width="1.5"/>
<text x="401.60" y="443.75" font-size="12.20" fill="#000" text-anchor="end">7.5</text>
<line x1="402.40" y1="413.12" x2="407.50" y2="413.12" stroke="#000" stroke-width="1.5"/>
<text x="401.60" y="417.12" font-size="12.20" fill="#000" text-anchor="end">8.0</text>
<line x1="402.40" y1="386.50" x2="407.50" y2="386.50" stroke="#000" stroke-width="1.5"/>
<text x="401.60" y="390.50" font-size="12.20" fill="#000" text-anchor="end">8.5</text>
<line x1="402.40" y1="359.88" x2="407.50" y2="359.88" stroke="#000" stroke-width="1.5"/>
<text x="401.60" y="363.88" font-size="12.20" fill="#000" text-anchor="end">9.0</text>
<line x1="402.40" y1="333.25" x2="407.50" y2="333.25" stroke="#000" stroke-width="1.5"/>
<text x="401.60" y="337.25" font-size="12.20" fill="#000" text-anchor="end">9.5</text>
<line x1="402.40" y1="306.62" x2="407.50" y2="306.62" stroke="#000" stroke-width="1.5"/>
<text x="401.60" y="310.62" font-size="12.20" fill="#000" text-anchor="end">10.0</text>
<line x1="402.40" y1="280.00" x2="407.50" y2="280.00" stroke="#000" stroke-width="1.5"/>
<text x="401.60" y="284.00" font-size="12.20" fill="#000" text-anchor="end">10.5</text>
<line x1="427.30" y1="495.30" x2="427.30" y2="498.80" stroke="#000" stroke-width="1.5"/>
<text x="427.30" y="510.10" font-size="11.60" fill="#000" text-anchor="middle">0</text>
<line x1="491.10" y1="495.30" x2="491.10" y2="498.80" stroke="#000" stroke-width="1.5"/>
<text x="491.10" y="510.10" font-size="11.60" fill="#000" text-anchor="middle">10</text>
<line x1="554.90" y1="495.30" x2="554.90" y2="498.80" stroke="#000" stroke-width="1.5"/>
<text x="554.90" y="510.10" font-size="11.60" fill="#000" text-anchor="middle">20</text>
<line x1="618.70" y1="495.30" x2="618.70" y2="498.80" stroke="#000" stroke-width="1.5"/>
<text x="618.70" y="510.10" font-size="11.60" fill="#000" text-anchor="middle">30</text>
<line x1="682.50" y1="495.30" x2="682.50" y2="498.80" stroke="#000" stroke-width="1.5"/>
<text x="682.50" y="510.10" font-size="11.60" fill="#000" text-anchor="middle">40</text>
<text x="377.00" y="408.50" font-size="12.80" textLength="74.90" lengthAdjust="spacingAndGlyphs" transform="rotate(-90 377.00 408.50)">Current (μA)</text>
<text x="468.20" y="525.30" font-size="12.70" fill="#000">Concentration of Caffeine (μM)</text>
<text x="502.00" y="293.70" font-size="11.00" fill="#000">R</text>
<text x="510.00" y="287.80" font-size="6.80" fill="#000">2</text>
<text x="513.60" y="293.70" font-size="11.00" fill="#000">=0.9906</text>
<rect x="424.70" y="473.70" width="5.2" height="5.2" fill="#000"/>
<rect x="431.40" y="461.60" width="5.2" height="5.2" fill="#000"/>
<rect x="488.90" y="440.40" width="5.2" height="5.2" fill="#000"/>
<rect x="552.90" y="393.90" width="5.2" height="5.2" fill="#000"/>
<rect x="617.10" y="320.70" width="5.2" height="5.2" fill="#000"/>
<rect x="680.40" y="277.20" width="5.2" height="5.2" fill="#000"/>
<line x1="427.30" y1="480.00" x2="683.40" y2="283.00" stroke="#ff0000" stroke-width="1.7"/>
<text x="677.90" y="283.80" font-size="16.40" fill="#000" textLength="22.30" lengthAdjust="spacingAndGlyphs">(d)</text>
<line x1="41.00" y1="773.10" x2="41.00" y2="776.90" stroke="#000" stroke-width="1.5"/>
<text x="40.50" y="786.50" font-size="11.40" fill="#000" text-anchor="middle">0.6</text>
<line x1="116.75" y1="773.10" x2="116.75" y2="776.90" stroke="#000" stroke-width="1.5"/>
<text x="116.25" y="786.50" font-size="11.40" fill="#000" text-anchor="middle">0.8</text>
<line x1="192.50" y1="773.10" x2="192.50" y2="776.90" stroke="#000" stroke-width="1.5"/>
<text x="192.00" y="786.50" font-size="11.40" fill="#000" text-anchor="middle">1.0</text>
<line x1="268.25" y1="773.10" x2="268.25" y2="776.90" stroke="#000" stroke-width="1.5"/>
<text x="267.75" y="786.50" font-size="11.40" fill="#000" text-anchor="middle">1.2</text>
<line x1="344.00" y1="773.10" x2="344.00" y2="776.90" stroke="#000" stroke-width="1.5"/>
<text x="343.50" y="786.50" font-size="11.40" fill="#000" text-anchor="middle">1.4</text>
<text x="30.30" y="679.20" font-size="11.90" textLength="67.40" lengthAdjust="spacingAndGlyphs" transform="rotate(-90 30.30 679.20)">Current (μA)</text>
<text x="141.40" y="799.50" font-size="11.60" fill="#000">Potential (V vs Ag/AgCl)</text>
<text x="49.20" y="560.50" font-size="11.50" fill="#000" textLength="60.50" lengthAdjust="spacingAndGlyphs">O'cean one8</text>
<text x="322.90" y="559.30" font-size="16.40" fill="#000" textLength="19.90" lengthAdjust="spacingAndGlyphs">(e)</text>
<clipPath id="ce"><rect x="41.0" y="543.4" width="303.0" height="229.70000000000005"/></clipPath>
<g clip-path="url(#ce)">
<path d="M40.80,760.36 L41.80,760.52 L42.80,760.68 L43.80,760.84 L44.80,761.01 L45.80,761.18 L46.80,761.36 L47.80,761.54 L48.80,761.72 L49.80,761.90 L50.80,762.09 L51.80,762.28 L52.80,762.47 L53.80,762.66 L54.80,762.85 L55.80,763.04 L56.80,763.24 L57.80,763.43 L58.80,763.62 L59.80,763.81 L60.80,764.00 L61.80,764.19 L62.80,764.38 L63.80,764.57 L64.80,764.75 L65.80,764.93 L66.80,765.11 L67.80,765.29 L68.80,765.46 L69.80,765.63 L70.80,765.80 L71.80,765.96 L72.80,766.11 L73.80,766.27 L74.80,766.41 L75.80,766.55 L76.80,766.69 L77.80,766.82 L78.80,766.94 L79.80,767.05 L80.80,767.16 L81.80,767.26 L82.80,767.36 L83.80,767.44 L84.80,767.52 L85.80,767.59 L86.80,767.65 L87.80,767.70 L88.80,767.75 L89.80,767.78 L90.80,767.80 L91.80,767.81 L92.80,767.81 L93.80,767.80 L94.80,767.78 L95.80,767.75 L96.80,767.70 L97.80,767.65 L98.80,767.58 L99.80,767.50 L100.80,767.40 L101.80,767.29 L102.80,767.17 L103.80,767.03 L104.80,766.88 L105.80,766.72 L106.80,766.54 L107.80,766.34 L108.80,766.13 L109.80,765.90 L110.80,765.66 L111.80,765.40 L112.80,765.13 L113.80,764.83 L114.80,764.52 L115.80,764.20 L116.80,763.85 L117.80,763.48 L118.80,763.10 L119.80,762.70 L120.80,762.28 L121.80,761.84 L122.80,761.38 L123.80,760.90 L124.80,760.40 L125.80,759.88 L126.80,759.34 L127.80,758.78 L128.80,758.21 L129.80,757.63 L130.80,757.04 L131.80,756.45 L132.80,755.87 L133.80,755.28 L134.80,754.70 L135.80,754.13 L136.80,753.58 L137.80,753.04 L138.80,752.53 L139.80,752.03 L140.80,751.56 L141.80,751.13 L142.80,750.72 L143.80,750.36 L144.80,750.03 L145.80,749.75 L146.80,749.50 L147.80,749.30 L148.80,749.12 L149.80,748.98 L150.80,748.85 L151.80,748.74 L152.80,748.64 L153.80,748.55 L154.80,748.45 L155.80,748.36 L156.80,748.25 L157.80,748.13 L158.80,747.99 L159.80,747.82 L160.80,747.62 L161.80,747.39 L162.80,747.11 L163.80,746.78 L164.80,746.40 L165.80,745.95 L166.80,745.44 L167.80,744.86 L168.80,744.20 L169.80,743.45 L170.80,742.62 L171.80,741.69 L172.80,740.66 L173.80,739.52 L174.80,738.28 L175.80,736.92 L176.80,735.44 L177.80,733.84 L178.80,732.11 L179.80,730.25 L180.80,728.25 L181.80,726.11 L182.80,723.82 L183.80,721.38 L184.80,718.79 L185.80,716.03 L186.80,713.11 L187.80,710.02 L188.80,706.75 L189.80,703.30 L190.80,699.67 L191.80,695.84 L192.80,691.82 L193.80,687.57 L194.80,683.08 L195.80,678.33 L196.80,673.31 L197.80,668.00 L198.80,662.38 L199.80,656.44 L200.80,650.15 L201.80,643.51 L202.80,636.50 L203.80,629.21 L204.80,621.72 L205.80,614.11 L206.80,606.47 L207.80,598.89 L208.80,591.47 L209.80,584.27 L210.80,577.40 L211.80,570.94 L212.80,564.97 L213.80,559.60 L214.80,554.94 L215.80,551.14 L216.80,548.32 L217.80,546.61 L218.80,546.15 L219.80,546.99 L220.80,549.01 L221.80,552.05 L222.80,555.99 L223.80,560.67 L224.80,565.95 L225.80,571.70 L226.80,577.85 L227.80,584.37 L228.80,591.21 L229.80,598.33 L230.80,605.69 L231.80,613.24 L232.80,620.91 L233.80,628.65 L234.80,636.40 L235.80,644.08 L236.80,651.64 L237.80,659.01 L238.80,666.13 L239.80,672.94 L240.80,679.38 L241.80,685.39 L242.80,690.94 L243.80,696.07 L244.80,700.79 L245.80,705.12 L246.80,709.08 L247.80,712.69 L248.80,715.97 L249.80,718.94 L250.80,721.62 L251.80,724.03 L252.80,726.20 L253.80,728.13 L254.80,729.85 L255.80,731.39 L256.80,732.76 L257.80,733.96 L258.80,735.02 L259.80,735.94 L260.80,736.72 L261.80,737.39 L262.80,737.94 L263.80,738.38 L264.80,738.73 L265.80,739.00 L266.80,739.18 L267.80,739.30 L268.80,739.36 L269.80,739.36 L270.80,739.32 L271.80,739.23 L272.80,739.09 L273.80,738.90 L274.80,738.67 L275.80,738.39 L276.80,738.06 L277.80,737.69 L278.80,737.28 L279.80,736.82 L280.80,736.31 L281.80,735.77 L282.80,735.18 L283.80,734.55 L284.80,733.88 L285.80,733.17 L286.80,732.42 L287.80,731.62 L288.80,730.79 L289.80,729.92 L290.80,729.01 L291.80,728.07 L292.80,727.09 L293.80,726.07 L294.80,725.01 L295.80,723.92 L296.80,722.79 L297.80,721.63 L298.80,720.44 L299.80,719.21 L300.80,717.95 L301.80,716.66 L302.80,715.33 L303.80,713.97 L304.80,712.59 L305.80,711.17 L306.80,709.72 L307.80,708.25 L308.80,706.74 L309.80,705.21 L310.80,703.65 L311.80,702.06 L312.80,700.45 L313.80,698.81 L314.80,697.14 L315.80,695.45 L316.80,693.73 L317.80,691.99 L318.80,690.23 L319.80,688.45 L320.80,686.64 L321.80,684.81 L322.80,682.96 L323.80,681.09 L324.80,679.20 L325.80,677.29 L326.80,675.36 L327.80,673.41 L328.80,671.44 L329.80,669.46 L330.80,667.45 L331.80,665.44 L332.80,663.40 L333.80,661.35 L334.80,659.29 L335.80,657.21 L336.80,655.12 L337.80,653.01 L338.80,650.90 L339.80,648.77 L340.80,646.62 L341.80,644.47 L342.80,642.31 L343.80,640.13 L344.50,638.60" fill="none" stroke="#3333ff" stroke-width="1.2" stroke-linejoin="round"/>
<path d="M40.80,755.08 L41.80,755.47 L42.80,755.85 L43.80,756.23 L44.80,756.59 L45.80,756.94 L46.80,757.29 L47.80,757.62 L48.80,757.94 L49.80,758.26 L50.80,758.56 L51.80,758.86 L52.80,759.15 L53.80,759.43 L54.80,759.70 L55.80,759.96 L56.80,760.21 L57.80,760.46 L58.80,760.69 L59.80,760.92 L60.80,761.14 L61.80,761.35 L62.80,761.56 L63.80,761.76 L64.80,761.95 L65.80,762.13 L66.80,762.31 L67.80,762.47 L68.80,762.64 L69.80,762.79 L70.80,762.94 L71.80,763.08 L72.80,763.22 L73.80,763.34 L74.80,763.47 L75.80,763.58 L76.80,763.69 L77.80,763.80 L78.80,763.90 L79.80,763.99 L80.80,764.08 L81.80,764.16 L82.80,764.24 L83.80,764.31 L84.80,764.38 L85.80,764.44 L86.80,764.50 L87.80,764.56 L88.80,764.61 L89.80,764.65 L90.80,764.69 L91.80,764.73 L92.80,764.76 L93.80,764.79 L94.80,764.82 L95.80,764.84 L96.80,764.86 L97.80,764.87 L98.80,764.88 L99.80,764.89 L100.80,764.90 L101.80,764.90 L102.80,764.90 L103.80,764.90 L104.80,764.90 L105.80,764.89 L106.80,764.88 L107.80,764.87 L108.80,764.86 L109.80,764.85 L110.80,764.83 L111.80,764.81 L112.80,764.80 L113.80,764.78 L114.80,764.76 L115.80,764.73 L116.80,764.71 L117.80,764.69 L118.80,764.66 L119.80,764.64 L120.80,764.61 L121.80,764.59 L122.80,764.56 L123.80,764.54 L124.80,764.51 L125.80,764.49 L126.80,764.46 L127.80,764.44 L128.80,764.41 L129.80,764.39 L130.80,764.37 L131.80,764.35 L132.80,764.33 L133.80,764.31 L134.80,764.29 L135.80,764.28 L136.80,764.26 L137.80,764.25 L138.80,764.24 L139.80,764.22 L140.80,764.20 L141.80,764.18 L142.80,764.15 L143.80,764.12 L144.80,764.09 L145.80,764.04 L146.80,763.99 L147.80,763.93 L148.80,763.87 L149.80,763.79 L150.80,763.70 L151.80,763.60 L152.80,763.48 L153.80,763.35 L154.80,763.21 L155.80,763.05 L156.80,762.88 L157.80,762.69 L158.80,762.48 L159.80,762.25 L160.80,762.01 L161.80,761.74 L162.80,761.45 L163.80,761.14 L164.80,760.80 L165.80,760.44 L166.80,760.06 L167.80,759.65 L168.80,759.21 L169.80,758.75 L170.80,758.26 L171.80,757.73 L172.80,757.18 L173.80,756.60 L174.80,755.98 L175.80,755.34 L176.80,754.66 L177.80,753.94 L178.80,753.19 L179.80,752.40 L180.80,751.58 L181.80,750.71 L182.80,749.80 L183.80,748.85 L184.80,747.85 L185.80,746.80 L186.80,745.70 L187.80,744.54 L188.80,743.33 L189.80,742.06 L190.80,740.73 L191.80,739.33 L192.80,737.87 L193.80,736.34 L194.80,734.75 L195.80,733.08 L196.80,731.33 L197.80,729.51 L198.80,727.61 L199.80,725.63 L200.80,723.56 L201.80,721.41 L202.80,719.18 L203.80,716.88 L204.80,714.55 L205.80,712.22 L206.80,709.90 L207.80,707.64 L208.80,705.45 L209.80,703.36 L210.80,701.40 L211.80,699.60 L212.80,697.99 L213.80,696.58 L214.80,695.42 L215.80,694.52 L216.80,693.92 L217.80,693.63 L218.80,693.70 L219.80,694.10 L220.80,694.82 L221.80,695.84 L222.80,697.14 L223.80,698.68 L224.80,700.46 L225.80,702.44 L226.80,704.61 L227.80,706.93 L228.80,709.37 L229.80,711.90 L230.80,714.48 L231.80,717.06 L232.80,719.63 L233.80,722.13 L234.80,724.53 L235.80,726.82 L236.80,729.00 L237.80,731.05 L238.80,732.98 L239.80,734.79 L240.80,736.48 L241.80,738.04 L242.80,739.48 L243.80,740.80 L244.80,741.99 L245.80,743.06 L246.80,744.01 L247.80,744.83 L248.80,745.55 L249.80,746.17 L250.80,746.68 L251.80,747.11 L252.80,747.45 L253.80,747.71 L254.80,747.90 L255.80,748.02 L256.80,748.08 L257.80,748.09 L258.80,748.05 L259.80,747.97 L260.80,747.86 L261.80,747.72 L262.80,747.55 L263.80,747.36 L264.80,747.15 L265.80,746.92 L266.80,746.67 L267.80,746.40 L268.80,746.10 L269.80,745.78 L270.80,745.44 L271.80,745.07 L272.80,744.68 L273.80,744.27 L274.80,743.83 L275.80,743.36 L276.80,742.88 L277.80,742.36 L278.80,741.82 L279.80,741.26 L280.80,740.67 L281.80,740.05 L282.80,739.41 L283.80,738.74 L284.80,738.04 L285.80,737.32 L286.80,736.57 L287.80,735.79 L288.80,734.98 L289.80,734.14 L290.80,733.27 L291.80,732.38 L292.80,731.45 L293.80,730.50 L294.80,729.52 L295.80,728.50 L296.80,727.46 L297.80,726.38 L298.80,725.28 L299.80,724.14 L300.80,722.98 L301.80,721.78 L302.80,720.55 L303.80,719.30 L304.80,718.01 L305.80,716.69 L306.80,715.34 L307.80,713.96 L308.80,712.55 L309.80,711.11 L310.80,709.64 L311.80,708.14 L312.80,706.61 L313.80,705.05 L314.80,703.45 L315.80,701.83 L316.80,700.17 L317.80,698.49 L318.80,696.77 L319.80,695.03 L320.80,693.25 L321.80,691.44 L322.80,689.60 L323.80,687.73 L324.80,685.83 L325.80,683.89 L326.80,681.93 L327.80,679.93 L328.80,677.91 L329.80,675.85 L330.80,673.76 L331.80,671.64 L332.80,669.49 L333.80,667.31 L334.80,665.10 L335.80,662.85 L336.80,660.58 L337.80,658.27 L338.80,655.93 L339.80,653.56 L340.80,651.16 L341.80,648.73 L342.80,646.27 L343.80,643.77 L344.50,642.00" fill="none" stroke="#208c8c" stroke-width="1.2" stroke-linejoin="round"/>
<path d="M40.80,749.74 L41.80,750.00 L42.80,750.27 L43.80,750.53 L44.80,750.79 L45.80,751.05 L46.80,751.30 L47.80,751.55 L48.80,751.80 L49.80,752.05 L50.80,752.30 L51.80,752.54 L52.80,752.78 L53.80,753.02 L54.80,753.25 L55.80,753.48 L56.80,753.71 L57.80,753.94 L58.80,754.17 L59.80,754.39 L60.80,754.61 L61.80,754.82 L62.80,755.04 L63.80,755.25 L64.80,755.46 L65.80,755.66 L66.80,755.87 L67.80,756.07 L68.80,756.27 L69.80,756.46 L70.80,756.65 L71.80,756.84 L72.80,757.03 L73.80,757.21 L74.80,757.39 L75.80,757.57 L76.80,757.74 L77.80,757.91 L78.80,758.08 L79.80,758.25 L80.80,758.41 L81.80,758.57 L82.80,758.72 L83.80,758.88 L84.80,759.02 L85.80,759.17 L86.80,759.31 L87.80,759.45 L88.80,759.59 L89.80,759.72 L90.80,759.85 L91.80,759.98 L92.80,760.10 L93.80,760.22 L94.80,760.34 L95.80,760.45 L96.80,760.56 L97.80,760.66 L98.80,760.77 L99.80,760.86 L100.80,760.96 L101.80,761.05 L102.80,761.14 L103.80,761.22 L104.80,761.30 L105.80,761.38 L106.80,761.45 L107.80,761.52 L108.80,761.59 L109.80,761.65 L110.80,761.71 L111.80,761.76 L112.80,761.81 L113.80,761.86 L114.80,761.90 L115.80,761.94 L116.80,761.98 L117.80,762.01 L118.80,762.03 L119.80,762.06 L120.80,762.08 L121.80,762.09 L122.80,762.10 L123.80,762.11 L124.80,762.11 L125.80,762.11 L126.80,762.10 L127.80,762.09 L128.80,762.08 L129.80,762.06 L130.80,762.04 L131.80,762.01 L132.80,761.98 L133.80,761.95 L134.80,761.91 L135.80,761.86 L136.80,761.81 L137.80,761.76 L138.80,761.70 L139.80,761.64 L140.80,761.58 L141.80,761.51 L142.80,761.43 L143.80,761.35 L144.80,761.27 L145.80,761.18 L146.80,761.08 L147.80,760.99 L148.80,760.88 L149.80,760.78 L150.80,760.66 L151.80,760.55 L152.80,760.43 L153.80,760.30 L154.80,760.17 L155.80,760.03 L156.80,759.89 L157.80,759.75 L158.80,759.60 L159.80,759.44 L160.80,759.28 L161.80,759.11 L162.80,758.94 L163.80,758.77 L164.80,758.59 L165.80,758.40 L166.80,758.21 L167.80,758.02 L168.80,757.82 L169.80,757.61 L170.80,757.40 L171.80,757.18 L172.80,756.96 L173.80,756.73 L174.80,756.49 L175.80,756.24 L176.80,755.99 L177.80,755.72 L178.80,755.44 L179.80,755.15 L180.80,754.84 L181.80,754.52 L182.80,754.19 L183.80,753.84 L184.80,753.47 L185.80,753.08 L186.80,752.67 L187.80,752.25 L188.80,751.80 L189.80,751.33 L190.80,750.84 L191.80,750.32 L192.80,749.78 L193.80,749.22 L194.80,748.63 L195.80,748.01 L196.80,747.36 L197.80,746.69 L198.80,746.00 L199.80,745.30 L200.80,744.60 L201.80,743.90 L202.80,743.22 L203.80,742.56 L204.80,741.92 L205.80,741.31 L206.80,740.75 L207.80,740.24 L208.80,739.78 L209.80,739.37 L210.80,739.01 L211.80,738.70 L212.80,738.44 L213.80,738.22 L214.80,738.05 L215.80,737.93 L216.80,737.85 L217.80,737.82 L218.80,737.83 L219.80,737.88 L220.80,737.98 L221.80,738.11 L222.80,738.29 L223.80,738.50 L224.80,738.75 L225.80,739.04 L226.80,739.37 L227.80,739.73 L228.80,740.13 L229.80,740.56 L230.80,741.02 L231.80,741.50 L232.80,742.00 L233.80,742.51 L234.80,743.02 L235.80,743.52 L236.80,744.02 L237.80,744.50 L238.80,744.95 L239.80,745.38 L240.80,745.77 L241.80,746.13 L242.80,746.44 L243.80,746.73 L244.80,746.98 L245.80,747.20 L246.80,747.38 L247.80,747.53 L248.80,747.65 L249.80,747.74 L250.80,747.80 L251.80,747.84 L252.80,747.84 L253.80,747.82 L254.80,747.77 L255.80,747.69 L256.80,747.59 L257.80,747.46 L258.80,747.31 L259.80,747.13 L260.80,746.93 L261.80,746.72 L262.80,746.48 L263.80,746.21 L264.80,745.93 L265.80,745.63 L266.80,745.30 L267.80,744.95 L268.80,744.58 L269.80,744.18 L270.80,743.76 L271.80,743.32 L272.80,742.85 L273.80,742.36 L274.80,741.85 L275.80,741.31 L276.80,740.74 L277.80,740.15 L278.80,739.53 L279.80,738.89 L280.80,738.22 L281.80,737.52 L282.80,736.79 L283.80,736.04 L284.80,735.26 L285.80,734.45 L286.80,733.62 L287.80,732.75 L288.80,731.86 L289.80,730.93 L290.80,729.98 L291.80,729.00 L292.80,727.98 L293.80,726.94 L294.80,725.86 L295.80,724.76 L296.80,723.62 L297.80,722.45 L298.80,721.25 L299.80,720.02 L300.80,718.76 L301.80,717.47 L302.80,716.15 L303.80,714.79 L304.80,713.41 L305.80,712.00 L306.80,710.55 L307.80,709.08 L308.80,707.58 L309.80,706.04 L310.80,704.48 L311.80,702.88 L312.80,701.26 L313.80,699.61 L314.80,697.92 L315.80,696.21 L316.80,694.47 L317.80,692.70 L318.80,690.90 L319.80,689.07 L320.80,687.21 L321.80,685.32 L322.80,683.41 L323.80,681.46 L324.80,679.49 L325.80,677.49 L326.80,675.46 L327.80,673.40 L328.80,671.31 L329.80,669.19 L330.80,667.05 L331.80,664.88 L332.80,662.68 L333.80,660.45 L334.80,658.19 L335.80,655.91 L336.80,653.60 L337.80,651.26 L338.80,648.89 L339.80,646.50 L340.80,644.08 L341.80,641.63 L342.80,639.16 L343.80,636.65 L344.50,634.89" fill="none" stroke="#ff2222" stroke-width="1.2" stroke-linejoin="round"/>
<path d="M40.80,748.37 L41.80,748.65 L42.80,748.93 L43.80,749.21 L44.80,749.49 L45.80,749.76 L46.80,750.03 L47.80,750.30 L48.80,750.57 L49.80,750.83 L50.80,751.09 L51.80,751.35 L52.80,751.60 L53.80,751.86 L54.80,752.11 L55.80,752.36 L56.80,752.60 L57.80,752.84 L58.80,753.08 L59.80,753.32 L60.80,753.55 L61.80,753.78 L62.80,754.01 L63.80,754.24 L64.80,754.46 L65.80,754.68 L66.80,754.90 L67.80,755.11 L68.80,755.32 L69.80,755.53 L70.80,755.74 L71.80,755.94 L72.80,756.14 L73.80,756.34 L74.80,756.53 L75.80,756.72 L76.80,756.91 L77.80,757.09 L78.80,757.27 L79.80,757.45 L80.80,757.62 L81.80,757.80 L82.80,757.96 L83.80,758.13 L84.80,758.29 L85.80,758.45 L86.80,758.61 L87.80,758.76 L88.80,758.91 L89.80,759.05 L90.80,759.20 L91.80,759.33 L92.80,759.47 L93.80,759.60 L94.80,759.73 L95.80,759.86 L96.80,759.98 L97.80,760.10 L98.80,760.21 L99.80,760.32 L100.80,760.43 L101.80,760.53 L102.80,760.63 L103.80,760.73 L104.80,760.82 L105.80,760.91 L106.80,761.00 L107.80,761.08 L108.80,761.16 L109.80,761.24 L110.80,761.31 L111.80,761.38 L112.80,761.44 L113.80,761.50 L114.80,761.56 L115.80,761.61 L116.80,761.66 L117.80,761.70 L118.80,761.74 L119.80,761.78 L120.80,761.81 L121.80,761.84 L122.80,761.87 L123.80,761.89 L124.80,761.91 L125.80,761.92 L126.80,761.93 L127.80,761.93 L128.80,761.93 L129.80,761.93 L130.80,761.92 L131.80,761.91 L132.80,761.90 L133.80,761.88 L134.80,761.85 L135.80,761.83 L136.80,761.79 L137.80,761.76 L138.80,761.72 L139.80,761.67 L140.80,761.62 L141.80,761.57 L142.80,761.51 L143.80,761.45 L144.80,761.38 L145.80,761.31 L146.80,761.23 L147.80,761.15 L148.80,761.07 L149.80,760.98 L150.80,760.89 L151.80,760.79 L152.80,760.69 L153.80,760.58 L154.80,760.47 L155.80,760.35 L156.80,760.23 L157.80,760.11 L158.80,759.98 L159.80,759.84 L160.80,759.70 L161.80,759.56 L162.80,759.41 L163.80,759.25 L164.80,759.09 L165.80,758.93 L166.80,758.76 L167.80,758.58 L168.80,758.40 L169.80,758.21 L170.80,758.02 L171.80,757.82 L172.80,757.62 L173.80,757.41 L174.80,757.19 L175.80,756.97 L176.80,756.74 L177.80,756.50 L178.80,756.26 L179.80,756.02 L180.80,755.76 L181.80,755.50 L182.80,755.24 L183.80,754.96 L184.80,754.68 L185.80,754.40 L186.80,754.10 L187.80,753.80 L188.80,753.49 L189.80,753.18 L190.80,752.86 L191.80,752.53 L192.80,752.19 L193.80,751.85 L194.80,751.50 L195.80,751.14 L196.80,750.77 L197.80,750.40 L198.80,750.02 L199.80,749.64 L200.80,749.26 L201.80,748.88 L202.80,748.51 L203.80,748.14 L204.80,747.78 L205.80,747.43 L206.80,747.09 L207.80,746.76 L208.80,746.45 L209.80,746.16 L210.80,745.89 L211.80,745.65 L212.80,745.43 L213.80,745.23 L214.80,745.06 L215.80,744.93 L216.80,744.82 L217.80,744.76 L218.80,744.72 L219.80,744.71 L220.80,744.73 L221.80,744.76 L222.80,744.82 L223.80,744.89 L224.80,744.97 L225.80,745.06 L226.80,745.16 L227.80,745.26 L228.80,745.36 L229.80,745.45 L230.80,745.55 L231.80,745.64 L232.80,745.72 L233.80,745.81 L234.80,745.88 L235.80,745.96 L236.80,746.02 L237.80,746.08 L238.80,746.14 L239.80,746.18 L240.80,746.22 L241.80,746.25 L242.80,746.28 L243.80,746.29 L244.80,746.29 L245.80,746.28 L246.80,746.26 L247.80,746.23 L248.80,746.19 L249.80,746.14 L250.80,746.07 L251.80,745.99 L252.80,745.90 L253.80,745.79 L254.80,745.66 L255.80,745.53 L256.80,745.37 L257.80,745.20 L258.80,745.01 L259.80,744.80 L260.80,744.58 L261.80,744.34 L262.80,744.07 L263.80,743.79 L264.80,743.49 L265.80,743.17 L266.80,742.82 L267.80,742.46 L268.80,742.07 L269.80,741.66 L270.80,741.23 L271.80,740.77 L272.80,740.29 L273.80,739.79 L274.80,739.25 L275.80,738.70 L276.80,738.11 L277.80,737.50 L278.80,736.87 L279.80,736.20 L280.80,735.51 L281.80,734.79 L282.80,734.03 L283.80,733.25 L284.80,732.44 L285.80,731.60 L286.80,730.72 L287.80,729.82 L288.80,728.88 L289.80,727.91 L290.80,726.90 L291.80,725.86 L292.80,724.79 L293.80,723.68 L294.80,722.53 L295.80,721.35 L296.80,720.14 L297.80,718.89 L298.80,717.60 L299.80,716.29 L300.80,714.93 L301.80,713.55 L302.80,712.13 L303.80,710.68 L304.80,709.21 L305.80,707.70 L306.80,706.16 L307.80,704.59 L308.80,702.99 L309.80,701.36 L310.80,699.71 L311.80,698.03 L312.80,696.32 L313.80,694.58 L314.80,692.82 L315.80,691.04 L316.80,689.23 L317.80,687.40 L318.80,685.54 L319.80,683.66 L320.80,681.76 L321.80,679.83 L322.80,677.89 L323.80,675.92 L324.80,673.94 L325.80,671.93 L326.80,669.91 L327.80,667.86 L328.80,665.80 L329.80,663.72 L330.80,661.63 L331.80,659.51 L332.80,657.39 L333.80,655.24 L334.80,653.09 L335.80,650.91 L336.80,648.73 L337.80,646.53 L338.80,644.32 L339.80,642.09 L340.80,639.86 L341.80,637.61 L342.80,635.36 L343.80,633.09 L344.50,631.50" fill="none" stroke="#ff33ff" stroke-width="1.2" stroke-linejoin="round"/>
</g>
<rect x="41.00" y="543.40" width="303.00" height="229.70" fill="none" stroke="#000" stroke-width="1.5"/>
<line x1="395.70" y1="774.10" x2="395.70" y2="777.90" stroke="#000" stroke-width="1.5"/>
<text x="395.70" y="787.20" font-size="11.00" fill="#000" text-anchor="middle">0.6</text>
<line x1="483.80" y1="774.10" x2="483.80" y2="777.90" stroke="#000" stroke-width="1.5"/>
<text x="483.80" y="787.20" font-size="11.00" fill="#000" text-anchor="middle">0.8</text>
<line x1="571.90" y1="774.10" x2="571.90" y2="777.90" stroke="#000" stroke-width="1.5"/>
<text x="571.90" y="787.20" font-size="11.00" fill="#000" text-anchor="middle">1.0</text>
<line x1="660.00" y1="774.10" x2="660.00" y2="777.90" stroke="#000" stroke-width="1.5"/>
<text x="660.00" y="787.20" font-size="11.00" fill="#000" text-anchor="middle">1.2</text>
<text x="384.80" y="682.30" font-size="11.90" textLength="67.40" lengthAdjust="spacingAndGlyphs" transform="rotate(-90 384.80 682.30)">Current (μA)</text>
<text x="475.60" y="801.80" font-size="11.80" fill="#000">Potential ( V vs Ag/AgCl)</text>
<text x="405.20" y="560.00" font-size="11.70" fill="#000">Imol Plus</text>
<text x="682.40" y="559.80" font-size="16.40" fill="#000" textLength="18.60" lengthAdjust="spacingAndGlyphs">(f)</text>
<clipPath id="cf"><rect x="395.7" y="544.8" width="308.8" height="229.30000000000007"/></clipPath>
<g clip-path="url(#cf)">
<path d="M396.00,712.08 L397.00,712.56 L398.00,713.04 L399.00,713.51 L400.00,713.98 L401.00,714.44 L402.00,714.90 L403.00,715.36 L404.00,715.81 L405.00,716.25 L406.00,716.70 L407.00,717.13 L408.00,717.56 L409.00,717.99 L410.00,718.42 L411.00,718.84 L412.00,719.25 L413.00,719.66 L414.00,720.07 L415.00,720.47 L416.00,720.87 L417.00,721.26 L418.00,721.65 L419.00,722.03 L420.00,722.41 L421.00,722.78 L422.00,723.15 L423.00,723.52 L424.00,723.88 L425.00,724.23 L426.00,724.59 L427.00,724.93 L428.00,725.27 L429.00,725.61 L430.00,725.94 L431.00,726.27 L432.00,726.60 L433.00,726.91 L434.00,727.23 L435.00,727.54 L436.00,727.84 L437.00,728.14 L438.00,728.44 L439.00,728.73 L440.00,729.01 L441.00,729.30 L442.00,729.57 L443.00,729.84 L444.00,730.11 L445.00,730.37 L446.00,730.63 L447.00,730.88 L448.00,731.13 L449.00,731.37 L450.00,731.61 L451.00,731.84 L452.00,732.07 L453.00,732.29 L454.00,732.51 L455.00,732.73 L456.00,732.93 L457.00,733.14 L458.00,733.34 L459.00,733.53 L460.00,733.72 L461.00,733.90 L462.00,734.08 L463.00,734.26 L464.00,734.42 L465.00,734.59 L466.00,734.75 L467.00,734.90 L468.00,735.05 L469.00,735.19 L470.00,735.33 L471.00,735.47 L472.00,735.59 L473.00,735.72 L474.00,735.84 L475.00,735.95 L476.00,736.06 L477.00,736.16 L478.00,736.26 L479.00,736.35 L480.00,736.44 L481.00,736.52 L482.00,736.60 L483.00,736.67 L484.00,736.74 L485.00,736.80 L486.00,736.86 L487.00,736.91 L488.00,736.96 L489.00,737.00 L490.00,737.03 L491.00,737.06 L492.00,737.09 L493.00,737.11 L494.00,737.12 L495.00,737.13 L496.00,737.14 L497.00,737.14 L498.00,737.13 L499.00,737.12 L500.00,737.10 L501.00,737.08 L502.00,737.05 L503.00,737.02 L504.00,736.98 L505.00,736.93 L506.00,736.89 L507.00,736.83 L508.00,736.77 L509.00,736.70 L510.00,736.63 L511.00,736.56 L512.00,736.47 L513.00,736.39 L514.00,736.29 L515.00,736.20 L516.00,736.09 L517.00,735.98 L518.00,735.87 L519.00,735.75 L520.00,735.62 L521.00,735.49 L522.00,735.35 L523.00,735.21 L524.00,735.06 L525.00,734.91 L526.00,734.75 L527.00,734.58 L528.00,734.41 L529.00,734.23 L530.00,734.05 L531.00,733.86 L532.00,733.67 L533.00,733.47 L534.00,733.27 L535.00,733.05 L536.00,732.84 L537.00,732.61 L538.00,732.38 L539.00,732.14 L540.00,731.90 L541.00,731.64 L542.00,731.38 L543.00,731.10 L544.00,730.81 L545.00,730.52 L546.00,730.21 L547.00,729.88 L548.00,729.55 L549.00,729.20 L550.00,728.84 L551.00,728.46 L552.00,728.07 L553.00,727.67 L554.00,727.24 L555.00,726.80 L556.00,726.35 L557.00,725.87 L558.00,725.38 L559.00,724.87 L560.00,724.34 L561.00,723.79 L562.00,723.22 L563.00,722.62 L564.00,722.01 L565.00,721.37 L566.00,720.72 L567.00,720.03 L568.00,719.33 L569.00,718.60 L570.00,717.84 L571.00,717.06 L572.00,716.26 L573.00,715.43 L574.00,714.57 L575.00,713.68 L576.00,712.76 L577.00,711.82 L578.00,710.85 L579.00,709.84 L580.00,708.81 L581.00,707.75 L582.00,706.65 L583.00,705.52 L584.00,704.37 L585.00,703.19 L586.00,701.99 L587.00,700.78 L588.00,699.57 L589.00,698.37 L590.00,697.17 L591.00,695.99 L592.00,694.83 L593.00,693.70 L594.00,692.61 L595.00,691.56 L596.00,690.56 L597.00,689.61 L598.00,688.72 L599.00,687.91 L600.00,687.18 L601.00,686.56 L602.00,686.06 L603.00,685.71 L604.00,685.51 L605.00,685.49 L606.00,685.64 L607.00,685.95 L608.00,686.41 L609.00,687.00 L610.00,687.71 L611.00,688.52 L612.00,689.42 L613.00,690.39 L614.00,691.43 L615.00,692.51 L616.00,693.62 L617.00,694.75 L618.00,695.89 L619.00,697.01 L620.00,698.11 L621.00,699.17 L622.00,700.18 L623.00,701.12 L624.00,702.00 L625.00,702.80 L626.00,703.55 L627.00,704.23 L628.00,704.85 L629.00,705.42 L630.00,705.93 L631.00,706.39 L632.00,706.80 L633.00,707.16 L634.00,707.47 L635.00,707.74 L636.00,707.97 L637.00,708.16 L638.00,708.31 L639.00,708.43 L640.00,708.52 L641.00,708.57 L642.00,708.60 L643.00,708.59 L644.00,708.56 L645.00,708.51 L646.00,708.42 L647.00,708.31 L648.00,708.17 L649.00,708.00 L650.00,707.81 L651.00,707.59 L652.00,707.34 L653.00,707.07 L654.00,706.77 L655.00,706.44 L656.00,706.08 L657.00,705.70 L658.00,705.29 L659.00,704.86 L660.00,704.40 L661.00,703.92 L662.00,703.40 L663.00,702.87 L664.00,702.30 L665.00,701.71 L666.00,701.10 L667.00,700.46 L668.00,699.79 L669.00,699.10 L670.00,698.38 L671.00,697.64 L672.00,696.87 L673.00,696.08 L674.00,695.26 L675.00,694.42 L676.00,693.56 L677.00,692.67 L678.00,691.75 L679.00,690.81 L680.00,689.85 L681.00,688.86 L682.00,687.84 L683.00,686.81 L684.00,685.75 L685.00,684.66 L686.00,683.55 L687.00,682.42 L688.00,681.27 L689.00,680.09 L690.00,678.88 L691.00,677.66 L692.00,676.41 L693.00,675.13 L694.00,673.84 L695.00,672.52 L696.00,671.18 L697.00,669.81 L698.00,668.43 L699.00,667.02 L700.00,665.59 L701.00,664.13 L702.00,662.65 L703.00,661.16 L704.00,659.63 L705.00,658.09" fill="none" stroke="#ee2288" stroke-width="1.2" stroke-linejoin="round"/>
<path d="M396.00,719.10 L397.00,719.56 L398.00,720.01 L399.00,720.45 L400.00,720.89 L401.00,721.33 L402.00,721.75 L403.00,722.18 L404.00,722.59 L405.00,723.00 L406.00,723.41 L407.00,723.80 L408.00,724.20 L409.00,724.59 L410.00,724.97 L411.00,725.34 L412.00,725.72 L413.00,726.08 L414.00,726.44 L415.00,726.80 L416.00,727.15 L417.00,727.49 L418.00,727.83 L419.00,728.16 L420.00,728.49 L421.00,728.82 L422.00,729.13 L423.00,729.45 L424.00,729.76 L425.00,730.06 L426.00,730.36 L427.00,730.65 L428.00,730.94 L429.00,731.23 L430.00,731.51 L431.00,731.78 L432.00,732.05 L433.00,732.32 L434.00,732.58 L435.00,732.83 L436.00,733.09 L437.00,733.33 L438.00,733.58 L439.00,733.81 L440.00,734.05 L441.00,734.28 L442.00,734.50 L443.00,734.73 L444.00,734.94 L445.00,735.16 L446.00,735.37 L447.00,735.57 L448.00,735.77 L449.00,735.97 L450.00,736.16 L451.00,736.35 L452.00,736.54 L453.00,736.72 L454.00,736.90 L455.00,737.07 L456.00,737.24 L457.00,737.41 L458.00,737.57 L459.00,737.73 L460.00,737.88 L461.00,738.04 L462.00,738.19 L463.00,738.33 L464.00,738.47 L465.00,738.61 L466.00,738.75 L467.00,738.88 L468.00,739.01 L469.00,739.14 L470.00,739.26 L471.00,739.38 L472.00,739.49 L473.00,739.61 L474.00,739.72 L475.00,739.83 L476.00,739.93 L477.00,740.03 L478.00,740.13 L479.00,740.23 L480.00,740.32 L481.00,740.41 L482.00,740.50 L483.00,740.59 L484.00,740.67 L485.00,740.75 L486.00,740.83 L487.00,740.90 L488.00,740.98 L489.00,741.05 L490.00,741.11 L491.00,741.18 L492.00,741.24 L493.00,741.29 L494.00,741.34 L495.00,741.39 L496.00,741.43 L497.00,741.47 L498.00,741.51 L499.00,741.53 L500.00,741.55 L501.00,741.57 L502.00,741.58 L503.00,741.58 L504.00,741.58 L505.00,741.57 L506.00,741.56 L507.00,741.53 L508.00,741.50 L509.00,741.46 L510.00,741.41 L511.00,741.36 L512.00,741.30 L513.00,741.22 L514.00,741.14 L515.00,741.05 L516.00,740.95 L517.00,740.84 L518.00,740.72 L519.00,740.59 L520.00,740.45 L521.00,740.30 L522.00,740.14 L523.00,739.97 L524.00,739.79 L525.00,739.59 L526.00,739.38 L527.00,739.16 L528.00,738.93 L529.00,738.69 L530.00,738.43 L531.00,738.16 L532.00,737.88 L533.00,737.58 L534.00,737.27 L535.00,736.95 L536.00,736.61 L537.00,736.26 L538.00,735.89 L539.00,735.51 L540.00,735.11 L541.00,734.70 L542.00,734.27 L543.00,733.83 L544.00,733.37 L545.00,732.89 L546.00,732.40 L547.00,731.89 L548.00,731.36 L549.00,730.81 L550.00,730.25 L551.00,729.67 L552.00,729.07 L553.00,728.46 L554.00,727.82 L555.00,727.16 L556.00,726.48 L557.00,725.78 L558.00,725.06 L559.00,724.31 L560.00,723.53 L561.00,722.73 L562.00,721.90 L563.00,721.04 L564.00,720.15 L565.00,719.23 L566.00,718.28 L567.00,717.30 L568.00,716.28 L569.00,715.23 L570.00,714.14 L571.00,713.02 L572.00,711.86 L573.00,710.66 L574.00,709.42 L575.00,708.14 L576.00,706.82 L577.00,705.45 L578.00,704.04 L579.00,702.59 L580.00,701.09 L581.00,699.55 L582.00,697.95 L583.00,696.31 L584.00,694.62 L585.00,692.88 L586.00,691.09 L587.00,689.24 L588.00,687.35 L589.00,685.39 L590.00,683.38 L591.00,681.32 L592.00,679.23 L593.00,677.13 L594.00,675.05 L595.00,673.01 L596.00,671.03 L597.00,669.15 L598.00,667.39 L599.00,665.77 L600.00,664.31 L601.00,663.04 L602.00,661.99 L603.00,661.18 L604.00,660.64 L605.00,660.38 L606.00,660.43 L607.00,660.77 L608.00,661.37 L609.00,662.23 L610.00,663.31 L611.00,664.60 L612.00,666.07 L613.00,667.71 L614.00,669.50 L615.00,671.41 L616.00,673.42 L617.00,675.51 L618.00,677.67 L619.00,679.87 L620.00,682.10 L621.00,684.32 L622.00,686.52 L623.00,688.68 L624.00,690.78 L625.00,692.80 L626.00,694.72 L627.00,696.53 L628.00,698.25 L629.00,699.86 L630.00,701.37 L631.00,702.79 L632.00,704.11 L633.00,705.33 L634.00,706.46 L635.00,707.50 L636.00,708.45 L637.00,709.31 L638.00,710.08 L639.00,710.76 L640.00,711.36 L641.00,711.88 L642.00,712.32 L643.00,712.69 L644.00,712.98 L645.00,713.21 L646.00,713.37 L647.00,713.47 L648.00,713.51 L649.00,713.49 L650.00,713.43 L651.00,713.31 L652.00,713.15 L653.00,712.95 L654.00,712.71 L655.00,712.43 L656.00,712.13 L657.00,711.79 L658.00,711.43 L659.00,711.04 L660.00,710.64 L661.00,710.22 L662.00,709.79 L663.00,709.35 L664.00,708.90 L665.00,708.44 L666.00,707.97 L667.00,707.49 L668.00,707.00 L669.00,706.49 L670.00,705.96 L671.00,705.42 L672.00,704.87 L673.00,704.29 L674.00,703.69 L675.00,703.07 L676.00,702.43 L677.00,701.77 L678.00,701.08 L679.00,700.36 L680.00,699.62 L681.00,698.85 L682.00,698.05 L683.00,697.22 L684.00,696.36 L685.00,695.46 L686.00,694.53 L687.00,693.57 L688.00,692.57 L689.00,691.53 L690.00,690.46 L691.00,689.34 L692.00,688.19 L693.00,686.99 L694.00,685.74 L695.00,684.46 L696.00,683.13 L697.00,681.75 L698.00,680.32 L699.00,678.85 L700.00,677.32 L701.00,675.75 L702.00,674.12 L703.00,672.43 L704.00,670.70 L705.00,668.90" fill="none" stroke="#8b2c2c" stroke-width="1.2" stroke-linejoin="round"/>
<path d="M396.00,725.41 L397.00,725.88 L398.00,726.34 L399.00,726.79 L400.00,727.24 L401.00,727.68 L402.00,728.12 L403.00,728.55 L404.00,728.98 L405.00,729.40 L406.00,729.81 L407.00,730.22 L408.00,730.62 L409.00,731.02 L410.00,731.41 L411.00,731.80 L412.00,732.18 L413.00,732.56 L414.00,732.93 L415.00,733.29 L416.00,733.65 L417.00,734.00 L418.00,734.35 L419.00,734.70 L420.00,735.03 L421.00,735.37 L422.00,735.69 L423.00,736.02 L424.00,736.33 L425.00,736.64 L426.00,736.95 L427.00,737.25 L428.00,737.55 L429.00,737.84 L430.00,738.12 L431.00,738.40 L432.00,738.68 L433.00,738.95 L434.00,739.21 L435.00,739.47 L436.00,739.73 L437.00,739.98 L438.00,740.23 L439.00,740.47 L440.00,740.70 L441.00,740.93 L442.00,741.16 L443.00,741.38 L444.00,741.60 L445.00,741.81 L446.00,742.01 L447.00,742.22 L448.00,742.41 L449.00,742.61 L450.00,742.80 L451.00,742.98 L452.00,743.16 L453.00,743.33 L454.00,743.50 L455.00,743.67 L456.00,743.83 L457.00,743.98 L458.00,744.14 L459.00,744.28 L460.00,744.43 L461.00,744.56 L462.00,744.70 L463.00,744.83 L464.00,744.95 L465.00,745.07 L466.00,745.19 L467.00,745.30 L468.00,745.41 L469.00,745.52 L470.00,745.62 L471.00,745.71 L472.00,745.80 L473.00,745.89 L474.00,745.97 L475.00,746.05 L476.00,746.13 L477.00,746.20 L478.00,746.26 L479.00,746.33 L480.00,746.39 L481.00,746.44 L482.00,746.49 L483.00,746.54 L484.00,746.58 L485.00,746.62 L486.00,746.66 L487.00,746.69 L488.00,746.72 L489.00,746.74 L490.00,746.76 L491.00,746.78 L492.00,746.79 L493.00,746.79 L494.00,746.79 L495.00,746.78 L496.00,746.77 L497.00,746.76 L498.00,746.73 L499.00,746.70 L500.00,746.67 L501.00,746.62 L502.00,746.58 L503.00,746.52 L504.00,746.46 L505.00,746.39 L506.00,746.31 L507.00,746.22 L508.00,746.13 L509.00,746.03 L510.00,745.92 L511.00,745.80 L512.00,745.67 L513.00,745.53 L514.00,745.39 L515.00,745.23 L516.00,745.07 L517.00,744.89 L518.00,744.71 L519.00,744.52 L520.00,744.31 L521.00,744.10 L522.00,743.87 L523.00,743.64 L524.00,743.39 L525.00,743.13 L526.00,742.86 L527.00,742.58 L528.00,742.28 L529.00,741.98 L530.00,741.66 L531.00,741.33 L532.00,740.98 L533.00,740.63 L534.00,740.26 L535.00,739.87 L536.00,739.48 L537.00,739.06 L538.00,738.62 L539.00,738.15 L540.00,737.65 L541.00,737.12 L542.00,736.56 L543.00,735.96 L544.00,735.32 L545.00,734.63 L546.00,733.90 L547.00,733.12 L548.00,732.28 L549.00,731.39 L550.00,730.44 L551.00,729.42 L552.00,728.34 L553.00,727.19 L554.00,725.99 L555.00,724.73 L556.00,723.42 L557.00,722.07 L558.00,720.68 L559.00,719.25 L560.00,717.79 L561.00,716.31 L562.00,714.80 L563.00,713.27 L564.00,711.69 L565.00,710.08 L566.00,708.41 L567.00,706.70 L568.00,704.92 L569.00,703.08 L570.00,701.17 L571.00,699.18 L572.00,697.11 L573.00,694.96 L574.00,692.72 L575.00,690.39 L576.00,687.99 L577.00,685.50 L578.00,682.94 L579.00,680.29 L580.00,677.58 L581.00,674.78 L582.00,671.92 L583.00,668.99 L584.00,666.00 L585.00,662.96 L586.00,659.90 L587.00,656.81 L588.00,653.72 L589.00,650.63 L590.00,647.56 L591.00,644.52 L592.00,641.52 L593.00,638.58 L594.00,635.71 L595.00,632.91 L596.00,630.22 L597.00,627.67 L598.00,625.28 L599.00,623.09 L600.00,621.11 L601.00,619.38 L602.00,617.93 L603.00,616.78 L604.00,615.97 L605.00,615.51 L606.00,615.44 L607.00,615.77 L608.00,616.48 L609.00,617.56 L610.00,618.99 L611.00,620.76 L612.00,622.87 L613.00,625.28 L614.00,628.00 L615.00,631.00 L616.00,634.23 L617.00,637.67 L618.00,641.27 L619.00,645.00 L620.00,648.82 L621.00,652.69 L622.00,656.57 L623.00,660.43 L624.00,664.23 L625.00,667.94 L626.00,671.54 L627.00,675.03 L628.00,678.38 L629.00,681.58 L630.00,684.61 L631.00,687.46 L632.00,690.12 L633.00,692.59 L634.00,694.88 L635.00,697.00 L636.00,698.97 L637.00,700.78 L638.00,702.46 L639.00,704.00 L640.00,705.42 L641.00,706.71 L642.00,707.87 L643.00,708.92 L644.00,709.86 L645.00,710.69 L646.00,711.42 L647.00,712.04 L648.00,712.58 L649.00,713.02 L650.00,713.37 L651.00,713.64 L652.00,713.83 L653.00,713.95 L654.00,714.00 L655.00,713.99 L656.00,713.91 L657.00,713.78 L658.00,713.60 L659.00,713.37 L660.00,713.09 L661.00,712.78 L662.00,712.43 L663.00,712.05 L664.00,711.64 L665.00,711.21 L666.00,710.77 L667.00,710.31 L668.00,709.84 L669.00,709.36 L670.00,708.86 L671.00,708.35 L672.00,707.82 L673.00,707.27 L674.00,706.70 L675.00,706.11 L676.00,705.50 L677.00,704.86 L678.00,704.20 L679.00,703.51 L680.00,702.79 L681.00,702.04 L682.00,701.26 L683.00,700.45 L684.00,699.60 L685.00,698.72 L686.00,697.79 L687.00,696.83 L688.00,695.83 L689.00,694.79 L690.00,693.70 L691.00,692.57 L692.00,691.39 L693.00,690.16 L694.00,688.89 L695.00,687.56 L696.00,686.18 L697.00,684.75 L698.00,683.27 L699.00,681.72 L700.00,680.12 L701.00,678.46 L702.00,676.74 L703.00,674.95 L704.00,673.11 L705.00,671.19" fill="none" stroke="#7d8a26" stroke-width="1.2" stroke-linejoin="round"/>
<path d="M396.00,727.84 L397.00,728.29 L398.00,728.74 L399.00,729.19 L400.00,729.62 L401.00,730.06 L402.00,730.49 L403.00,730.91 L404.00,731.33 L405.00,731.75 L406.00,732.16 L407.00,732.56 L408.00,732.97 L409.00,733.36 L410.00,733.75 L411.00,734.14 L412.00,734.52 L413.00,734.89 L414.00,735.26 L415.00,735.63 L416.00,735.99 L417.00,736.35 L418.00,736.70 L419.00,737.04 L420.00,737.38 L421.00,737.72 L422.00,738.05 L423.00,738.38 L424.00,738.70 L425.00,739.01 L426.00,739.32 L427.00,739.63 L428.00,739.93 L429.00,740.23 L430.00,740.52 L431.00,740.80 L432.00,741.08 L433.00,741.36 L434.00,741.63 L435.00,741.89 L436.00,742.15 L437.00,742.41 L438.00,742.66 L439.00,742.90 L440.00,743.14 L441.00,743.37 L442.00,743.60 L443.00,743.83 L444.00,744.05 L445.00,744.26 L446.00,744.47 L447.00,744.67 L448.00,744.87 L449.00,745.06 L450.00,745.25 L451.00,745.43 L452.00,745.61 L453.00,745.78 L454.00,745.94 L455.00,746.10 L456.00,746.26 L457.00,746.41 L458.00,746.56 L459.00,746.69 L460.00,746.83 L461.00,746.96 L462.00,747.08 L463.00,747.20 L464.00,747.31 L465.00,747.42 L466.00,747.52 L467.00,747.62 L468.00,747.71 L469.00,747.80 L470.00,747.88 L471.00,747.95 L472.00,748.02 L473.00,748.09 L474.00,748.15 L475.00,748.20 L476.00,748.25 L477.00,748.29 L478.00,748.33 L479.00,748.36 L480.00,748.38 L481.00,748.41 L482.00,748.42 L483.00,748.43 L484.00,748.43 L485.00,748.43 L486.00,748.43 L487.00,748.41 L488.00,748.40 L489.00,748.37 L490.00,748.34 L491.00,748.31 L492.00,748.26 L493.00,748.22 L494.00,748.16 L495.00,748.10 L496.00,748.03 L497.00,747.96 L498.00,747.87 L499.00,747.79 L500.00,747.69 L501.00,747.59 L502.00,747.47 L503.00,747.36 L504.00,747.23 L505.00,747.10 L506.00,746.95 L507.00,746.80 L508.00,746.65 L509.00,746.48 L510.00,746.30 L511.00,746.12 L512.00,745.93 L513.00,745.73 L514.00,745.52 L515.00,745.30 L516.00,745.07 L517.00,744.83 L518.00,744.58 L519.00,744.32 L520.00,744.06 L521.00,743.78 L522.00,743.49 L523.00,743.20 L524.00,742.89 L525.00,742.57 L526.00,742.24 L527.00,741.90 L528.00,741.56 L529.00,741.19 L530.00,740.82 L531.00,740.44 L532.00,740.05 L533.00,739.64 L534.00,739.22 L535.00,738.79 L536.00,738.35 L537.00,737.89 L538.00,737.41 L539.00,736.91 L540.00,736.38 L541.00,735.83 L542.00,735.24 L543.00,734.63 L544.00,733.97 L545.00,733.28 L546.00,732.55 L547.00,731.78 L548.00,730.96 L549.00,730.09 L550.00,729.17 L551.00,728.20 L552.00,727.17 L553.00,726.08 L554.00,724.93 L555.00,723.72 L556.00,722.44 L557.00,721.09 L558.00,719.67 L559.00,718.17 L560.00,716.59 L561.00,714.94 L562.00,713.20 L563.00,711.38 L564.00,709.47 L565.00,707.47 L566.00,705.38 L567.00,703.20 L568.00,700.92 L569.00,698.54 L570.00,696.06 L571.00,693.47 L572.00,690.79 L573.00,687.99 L574.00,685.09 L575.00,682.07 L576.00,678.95 L577.00,675.70 L578.00,672.34 L579.00,668.86 L580.00,665.26 L581.00,661.54 L582.00,657.69 L583.00,653.71 L584.00,649.60 L585.00,645.36 L586.00,640.98 L587.00,636.47 L588.00,631.82 L589.00,627.03 L590.00,622.10 L591.00,617.02 L592.00,611.83 L593.00,606.58 L594.00,601.35 L595.00,596.18 L596.00,591.14 L597.00,586.29 L598.00,581.70 L599.00,577.42 L600.00,573.52 L601.00,570.06 L602.00,567.09 L603.00,564.69 L604.00,562.91 L605.00,561.81 L606.00,561.46 L607.00,561.88 L608.00,563.03 L609.00,564.87 L610.00,567.34 L611.00,570.40 L612.00,573.98 L613.00,578.05 L614.00,582.55 L615.00,587.43 L616.00,592.65 L617.00,598.14 L618.00,603.87 L619.00,609.77 L620.00,615.80 L621.00,621.92 L622.00,628.06 L623.00,634.16 L624.00,640.14 L625.00,645.90 L626.00,651.36 L627.00,656.48 L628.00,661.28 L629.00,665.75 L630.00,669.90 L631.00,673.74 L632.00,677.28 L633.00,680.54 L634.00,683.54 L635.00,686.30 L636.00,688.83 L637.00,691.15 L638.00,693.28 L639.00,695.24 L640.00,697.04 L641.00,698.70 L642.00,700.23 L643.00,701.65 L644.00,702.95 L645.00,704.14 L646.00,705.22 L647.00,706.19 L648.00,707.07 L649.00,707.84 L650.00,708.53 L651.00,709.12 L652.00,709.63 L653.00,710.06 L654.00,710.41 L655.00,710.69 L656.00,710.89 L657.00,711.03 L658.00,711.11 L659.00,711.13 L660.00,711.09 L661.00,711.00 L662.00,710.87 L663.00,710.69 L664.00,710.48 L665.00,710.22 L666.00,709.94 L667.00,709.62 L668.00,709.29 L669.00,708.93 L670.00,708.55 L671.00,708.14 L672.00,707.71 L673.00,707.25 L674.00,706.76 L675.00,706.25 L676.00,705.71 L677.00,705.14 L678.00,704.54 L679.00,703.91 L680.00,703.25 L681.00,702.55 L682.00,701.82 L683.00,701.06 L684.00,700.26 L685.00,699.43 L686.00,698.56 L687.00,697.66 L688.00,696.71 L689.00,695.73 L690.00,694.71 L691.00,693.65 L692.00,692.54 L693.00,691.40 L694.00,690.21 L695.00,688.98 L696.00,687.70 L697.00,686.38 L698.00,685.01 L699.00,683.59 L700.00,682.13 L701.00,680.62 L702.00,679.06 L703.00,677.45 L704.00,675.79 L705.00,674.07" fill="none" stroke="#ff2222" stroke-width="1.2" stroke-linejoin="round"/>
</g>
<rect x="395.70" y="544.80" width="308.80" height="229.30" fill="none" stroke="#000" stroke-width="1.5"/>
</svg>
</body></html>
